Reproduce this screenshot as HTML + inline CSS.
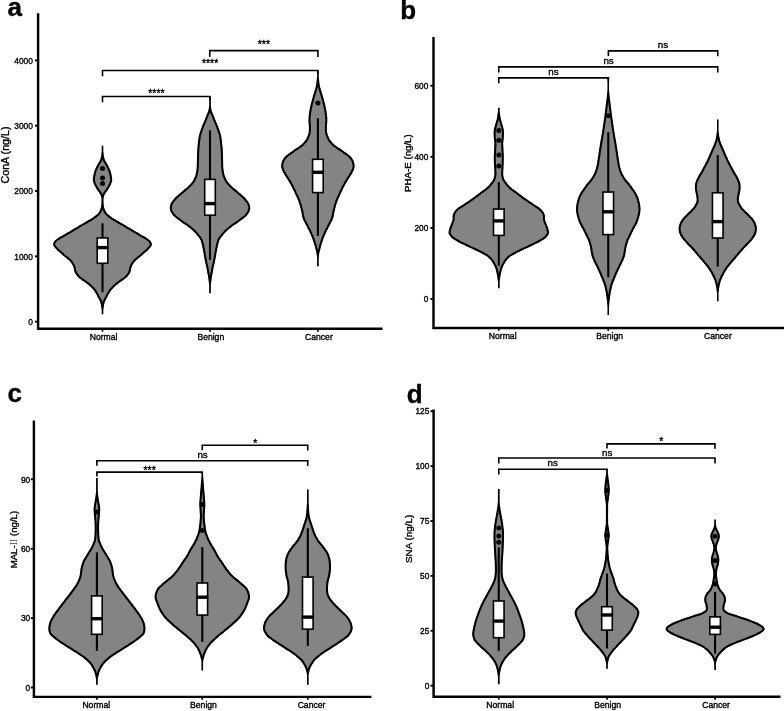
<!DOCTYPE html>
<html lang="en">
<head>
<meta charset="utf-8">
<title>Violin plots of lectin levels: ConA, PHA-E, MAL-II, SNA</title>
<style>
html,body{margin:0;padding:0;background:#fff;}
body{width:784px;height:711px;overflow:hidden;font-family:"Liberation Sans", sans-serif;}
svg{display:block;filter:blur(0.45px);}
</style>
</head>
<body>
<svg width="784" height="711" viewBox="0 0 784 711" font-family='"Liberation Sans", sans-serif' fill="#000">
<style>text{stroke:#000;stroke-width:0.35px;paint-order:stroke fill}</style>
<rect width="784" height="711" fill="#fff"/>
<g id="panel-a">
<text x="7.4" y="15.5" font-size="26" font-weight="bold">a</text>
<defs><path id="va0" d="M103.3,145.8 L103.3,146.6 L103.3,147.4 L103.3,148.2 L103.3,149.0 L103.3,149.8 L103.3,150.6 L103.3,151.4 L103.4,152.2 L103.5,153.0 L103.6,153.8 L103.7,154.6 L103.8,155.4 L103.9,156.2 L104.1,157.0 L104.3,157.8 L104.5,158.6 L104.7,159.4 L105.0,160.2 L105.5,161.0 L105.9,161.8 L106.4,162.6 L106.9,163.4 L107.4,164.2 L107.8,165.0 L108.2,165.8 L108.6,166.6 L109.0,167.4 L109.4,168.2 L109.7,169.0 L110.1,169.8 L110.4,170.5 L110.6,171.3 L110.9,172.1 L111.1,172.9 L111.3,173.7 L111.4,174.5 L111.6,175.3 L111.8,176.1 L111.9,176.9 L112.0,177.7 L112.1,178.5 L112.2,179.3 L112.2,180.1 L112.0,180.9 L111.9,181.7 L111.6,182.5 L111.3,183.3 L111.1,184.1 L110.7,184.9 L110.3,185.7 L109.9,186.5 L109.4,187.3 L109.0,188.1 L108.5,188.9 L108.0,189.7 L107.5,190.5 L106.9,191.3 L106.3,192.1 L105.7,192.9 L105.2,193.7 L104.7,194.5 L104.4,195.3 L104.1,196.1 L103.8,196.9 L103.6,197.7 L103.5,198.5 L103.5,199.3 L103.5,200.1 L103.5,200.9 L103.5,201.7 L103.5,202.5 L103.6,203.3 L103.6,204.1 L103.7,204.9 L103.7,205.7 L103.9,206.5 L104.1,207.3 L104.3,208.1 L104.6,208.9 L104.9,209.7 L105.2,210.5 L105.6,211.3 L106.1,212.1 L106.7,212.9 L107.4,213.7 L108.3,214.5 L109.2,215.3 L110.2,216.1 L111.3,216.9 L112.4,217.7 L113.6,218.4 L114.9,219.2 L116.2,220.0 L117.6,220.8 L119.0,221.6 L120.4,222.4 L121.7,223.2 L123.1,224.0 L124.5,224.8 L125.8,225.6 L127.1,226.4 L128.5,227.2 L129.8,228.0 L131.2,228.8 L132.5,229.6 L133.9,230.4 L135.2,231.2 L136.6,232.0 L138.0,232.8 L139.3,233.6 L140.7,234.4 L142.1,235.2 L143.5,236.0 L144.9,236.8 L146.2,237.6 L147.4,238.4 L148.5,239.2 L149.5,240.0 L150.3,240.8 L150.9,241.6 L151.3,242.4 L151.7,243.2 L151.9,244.0 L151.8,244.8 L151.6,245.6 L151.2,246.4 L150.6,247.2 L149.9,248.0 L149.2,248.8 L148.5,249.6 L147.7,250.4 L146.8,251.2 L145.9,252.0 L145.0,252.8 L144.1,253.6 L143.2,254.4 L142.3,255.2 L141.4,256.0 L140.4,256.8 L139.4,257.6 L138.4,258.4 L137.5,259.2 L136.5,260.0 L135.7,260.8 L134.9,261.6 L134.2,262.4 L133.6,263.2 L133.1,264.0 L132.6,264.8 L132.2,265.6 L131.9,266.3 L131.6,267.1 L131.3,267.9 L131.1,268.7 L131.0,269.5 L130.9,270.3 L130.7,271.1 L130.5,271.9 L130.1,272.7 L129.7,273.5 L129.2,274.3 L128.6,275.1 L128.0,275.9 L127.3,276.7 L126.6,277.5 L125.7,278.3 L124.7,279.1 L123.5,279.9 L122.3,280.7 L121.1,281.5 L120.0,282.3 L118.9,283.1 L117.9,283.9 L116.9,284.7 L116.0,285.5 L115.1,286.3 L114.2,287.1 L113.4,287.9 L112.6,288.7 L111.9,289.5 L111.2,290.3 L110.7,291.1 L110.1,291.9 L109.6,292.7 L109.2,293.5 L108.7,294.3 L108.3,295.1 L107.9,295.9 L107.5,296.7 L107.1,297.5 L106.6,298.3 L106.2,299.1 L105.8,299.9 L105.4,300.7 L105.0,301.5 L104.7,302.3 L104.5,303.1 L104.3,303.9 L104.1,304.7 L104.0,305.5 L103.9,306.3 L103.7,307.1 L103.6,307.9 L103.5,308.7 L103.4,309.5 L103.3,310.3 L103.3,311.1 L103.3,311.9 L103.3,312.7 L103.3,313.5 L103.3,314.2 L101.7,314.2 L101.7,313.5 L101.7,312.7 L101.7,311.9 L101.7,311.1 L101.7,310.3 L101.6,309.5 L101.5,308.7 L101.4,307.9 L101.3,307.1 L101.1,306.3 L101.0,305.5 L100.9,304.7 L100.7,303.9 L100.5,303.1 L100.3,302.3 L100.0,301.5 L99.6,300.7 L99.2,299.9 L98.8,299.1 L98.4,298.3 L97.9,297.5 L97.5,296.7 L97.1,295.9 L96.7,295.1 L96.3,294.3 L95.8,293.5 L95.4,292.7 L94.9,291.9 L94.3,291.1 L93.8,290.3 L93.1,289.5 L92.4,288.7 L91.6,287.9 L90.8,287.1 L89.9,286.3 L89.0,285.5 L88.1,284.7 L87.1,283.9 L86.1,283.1 L85.0,282.3 L83.9,281.5 L82.7,280.7 L81.5,279.9 L80.3,279.1 L79.3,278.3 L78.4,277.5 L77.7,276.7 L77.0,275.9 L76.4,275.1 L75.8,274.3 L75.3,273.5 L74.9,272.7 L74.5,271.9 L74.3,271.1 L74.1,270.3 L74.0,269.5 L73.9,268.7 L73.7,267.9 L73.4,267.1 L73.1,266.3 L72.8,265.6 L72.4,264.8 L71.9,264.0 L71.4,263.2 L70.8,262.4 L70.1,261.6 L69.3,260.8 L68.5,260.0 L67.5,259.2 L66.6,258.4 L65.6,257.6 L64.6,256.8 L63.6,256.0 L62.7,255.2 L61.8,254.4 L60.9,253.6 L60.0,252.8 L59.1,252.0 L58.2,251.2 L57.3,250.4 L56.5,249.6 L55.8,248.8 L55.1,248.0 L54.4,247.2 L53.8,246.4 L53.4,245.6 L53.2,244.8 L53.1,244.0 L53.3,243.2 L53.7,242.4 L54.1,241.6 L54.7,240.8 L55.5,240.0 L56.5,239.2 L57.6,238.4 L58.8,237.6 L60.1,236.8 L61.5,236.0 L62.9,235.2 L64.3,234.4 L65.7,233.6 L67.0,232.8 L68.4,232.0 L69.8,231.2 L71.1,230.4 L72.5,229.6 L73.8,228.8 L75.2,228.0 L76.5,227.2 L77.9,226.4 L79.2,225.6 L80.5,224.8 L81.9,224.0 L83.3,223.2 L84.6,222.4 L86.0,221.6 L87.4,220.8 L88.8,220.0 L90.1,219.2 L91.4,218.4 L92.6,217.7 L93.7,216.9 L94.8,216.1 L95.8,215.3 L96.7,214.5 L97.6,213.7 L98.3,212.9 L98.9,212.1 L99.4,211.3 L99.8,210.5 L100.1,209.7 L100.4,208.9 L100.7,208.1 L100.9,207.3 L101.1,206.5 L101.3,205.7 L101.3,204.9 L101.4,204.1 L101.4,203.3 L101.5,202.5 L101.5,201.7 L101.5,200.9 L101.5,200.1 L101.5,199.3 L101.5,198.5 L101.4,197.7 L101.2,196.9 L100.9,196.1 L100.6,195.3 L100.3,194.5 L99.8,193.7 L99.3,192.9 L98.7,192.1 L98.1,191.3 L97.5,190.5 L97.0,189.7 L96.5,188.9 L96.0,188.1 L95.6,187.3 L95.1,186.5 L94.7,185.7 L94.3,184.9 L93.9,184.1 L93.7,183.3 L93.4,182.5 L93.1,181.7 L93.0,180.9 L92.8,180.1 L92.8,179.3 L92.9,178.5 L93.0,177.7 L93.1,176.9 L93.2,176.1 L93.4,175.3 L93.6,174.5 L93.7,173.7 L93.9,172.9 L94.1,172.1 L94.4,171.3 L94.6,170.5 L94.9,169.8 L95.3,169.0 L95.6,168.2 L96.0,167.4 L96.4,166.6 L96.8,165.8 L97.2,165.0 L97.6,164.2 L98.1,163.4 L98.6,162.6 L99.1,161.8 L99.5,161.0 L100.0,160.2 L100.3,159.4 L100.5,158.6 L100.7,157.8 L100.9,157.0 L101.1,156.2 L101.2,155.4 L101.3,154.6 L101.4,153.8 L101.5,153.0 L101.6,152.2 L101.7,151.4 L101.7,150.6 L101.7,149.8 L101.7,149.0 L101.7,148.2 L101.7,147.4 L101.7,146.6 L101.7,145.8 Z"/><clipPath id="cva0"><use href="#va0"/></clipPath></defs>
<use href="#va0" fill="#848484" stroke="#000" stroke-width="4.1" stroke-linejoin="round" clip-path="url(#cva0)"/>
<defs><path id="va1" d="M210.8,96.5 L210.8,97.3 L210.8,98.1 L210.8,98.9 L210.8,99.7 L210.8,100.5 L210.8,101.3 L210.8,102.1 L210.8,102.9 L210.8,103.7 L210.8,104.5 L210.8,105.3 L210.8,106.1 L210.9,106.9 L211.1,107.7 L211.2,108.5 L211.4,109.3 L211.5,110.1 L211.7,110.9 L212.0,111.7 L212.3,112.5 L212.7,113.3 L213.0,114.1 L213.4,114.9 L213.7,115.7 L214.0,116.5 L214.3,117.3 L214.6,118.1 L214.9,118.9 L215.2,119.7 L215.6,120.5 L215.9,121.3 L216.2,122.1 L216.6,122.9 L216.9,123.7 L217.3,124.5 L217.6,125.3 L217.9,126.1 L218.2,126.9 L218.5,127.7 L218.8,128.5 L219.1,129.3 L219.4,130.1 L219.6,130.9 L219.9,131.7 L220.2,132.5 L220.4,133.3 L220.7,134.1 L220.9,134.9 L221.1,135.7 L221.2,136.5 L221.4,137.3 L221.5,138.1 L221.6,138.9 L221.7,139.7 L221.8,140.5 L221.9,141.3 L222.0,142.1 L222.1,142.9 L222.2,143.7 L222.3,144.5 L222.3,145.3 L222.4,146.1 L222.5,146.9 L222.6,147.7 L222.6,148.5 L222.7,149.3 L222.7,150.1 L222.8,150.9 L222.8,151.7 L222.9,152.5 L222.9,153.3 L222.9,154.1 L222.9,154.9 L223.0,155.7 L223.0,156.5 L223.0,157.3 L223.0,158.1 L223.1,158.9 L223.1,159.7 L223.1,160.5 L223.1,161.3 L223.1,162.1 L223.1,162.9 L223.2,163.7 L223.2,164.5 L223.2,165.3 L223.2,166.1 L223.2,166.9 L223.3,167.7 L223.4,168.5 L223.4,169.3 L223.6,170.1 L223.7,170.9 L223.8,171.7 L223.9,172.5 L224.1,173.3 L224.3,174.1 L224.5,174.9 L224.7,175.7 L225.0,176.5 L225.4,177.3 L225.7,178.1 L226.1,178.9 L226.4,179.7 L226.9,180.5 L227.4,181.3 L228.0,182.1 L228.7,182.9 L229.4,183.7 L230.1,184.5 L230.9,185.3 L231.7,186.1 L232.5,186.9 L233.4,187.7 L234.4,188.5 L235.3,189.3 L236.3,190.1 L237.3,190.9 L238.2,191.7 L239.1,192.5 L240.1,193.3 L241.0,194.1 L242.0,194.9 L242.9,195.7 L243.7,196.5 L244.6,197.3 L245.3,198.1 L246.0,198.9 L246.6,199.7 L247.3,200.5 L247.8,201.3 L248.4,202.1 L248.9,202.9 L249.3,203.7 L249.6,204.5 L249.8,205.3 L250.0,206.1 L250.2,206.9 L250.2,207.7 L250.2,208.5 L250.1,209.3 L249.9,210.1 L249.7,210.9 L249.3,211.7 L248.9,212.5 L248.4,213.3 L247.9,214.1 L247.3,214.9 L246.7,215.7 L245.9,216.5 L245.0,217.3 L244.0,218.1 L242.9,218.9 L241.9,219.7 L240.8,220.5 L239.8,221.3 L238.7,222.1 L237.6,222.9 L236.4,223.7 L235.2,224.5 L234.0,225.3 L232.8,226.1 L231.7,226.9 L230.7,227.7 L229.7,228.5 L228.8,229.3 L227.8,230.1 L227.0,230.9 L226.1,231.7 L225.3,232.5 L224.6,233.3 L223.9,234.1 L223.3,234.9 L222.6,235.7 L222.0,236.5 L221.3,237.3 L220.7,238.1 L220.2,238.9 L219.7,239.7 L219.3,240.5 L219.0,241.3 L218.8,242.1 L218.6,242.9 L218.4,243.7 L218.2,244.5 L218.0,245.3 L217.8,246.1 L217.7,246.9 L217.5,247.7 L217.3,248.5 L217.2,249.3 L217.0,250.1 L216.9,250.9 L216.7,251.7 L216.6,252.5 L216.4,253.3 L216.3,254.1 L216.2,254.9 L216.0,255.7 L215.9,256.5 L215.8,257.3 L215.6,258.1 L215.5,258.9 L215.3,259.7 L215.2,260.5 L215.0,261.3 L214.9,262.1 L214.7,262.9 L214.5,263.7 L214.3,264.5 L214.1,265.3 L213.9,266.1 L213.7,266.9 L213.6,267.7 L213.4,268.5 L213.3,269.3 L213.1,270.1 L213.0,270.9 L212.9,271.7 L212.7,272.5 L212.6,273.3 L212.4,274.1 L212.2,274.9 L212.1,275.7 L211.9,276.5 L211.8,277.3 L211.7,278.1 L211.6,278.9 L211.5,279.7 L211.4,280.5 L211.3,281.3 L211.2,282.1 L211.1,282.9 L211.0,283.7 L210.9,284.5 L210.9,285.3 L210.8,286.1 L210.8,286.9 L210.8,287.7 L210.8,288.5 L210.8,289.3 L210.8,290.1 L210.8,290.9 L210.8,291.7 L210.8,292.5 L210.8,293.2 L209.2,293.2 L209.2,292.5 L209.2,291.7 L209.2,290.9 L209.2,290.1 L209.2,289.3 L209.2,288.5 L209.2,287.7 L209.2,286.9 L209.2,286.1 L209.1,285.3 L209.1,284.5 L209.0,283.7 L208.9,282.9 L208.8,282.1 L208.7,281.3 L208.6,280.5 L208.5,279.7 L208.4,278.9 L208.3,278.1 L208.2,277.3 L208.1,276.5 L207.9,275.7 L207.8,274.9 L207.6,274.1 L207.4,273.3 L207.3,272.5 L207.1,271.7 L207.0,270.9 L206.9,270.1 L206.7,269.3 L206.6,268.5 L206.4,267.7 L206.3,266.9 L206.1,266.1 L205.9,265.3 L205.7,264.5 L205.5,263.7 L205.3,262.9 L205.1,262.1 L205.0,261.3 L204.8,260.5 L204.7,259.7 L204.5,258.9 L204.4,258.1 L204.2,257.3 L204.1,256.5 L204.0,255.7 L203.8,254.9 L203.7,254.1 L203.6,253.3 L203.4,252.5 L203.3,251.7 L203.1,250.9 L203.0,250.1 L202.8,249.3 L202.7,248.5 L202.5,247.7 L202.3,246.9 L202.2,246.1 L202.0,245.3 L201.8,244.5 L201.6,243.7 L201.4,242.9 L201.2,242.1 L201.0,241.3 L200.7,240.5 L200.3,239.7 L199.8,238.9 L199.3,238.1 L198.7,237.3 L198.0,236.5 L197.4,235.7 L196.7,234.9 L196.1,234.1 L195.4,233.3 L194.7,232.5 L193.9,231.7 L193.0,230.9 L192.2,230.1 L191.2,229.3 L190.3,228.5 L189.3,227.7 L188.3,226.9 L187.2,226.1 L186.0,225.3 L184.8,224.5 L183.6,223.7 L182.4,222.9 L181.3,222.1 L180.2,221.3 L179.2,220.5 L178.1,219.7 L177.1,218.9 L176.0,218.1 L175.0,217.3 L174.1,216.5 L173.3,215.7 L172.7,214.9 L172.1,214.1 L171.6,213.3 L171.1,212.5 L170.7,211.7 L170.3,210.9 L170.1,210.1 L169.9,209.3 L169.8,208.5 L169.8,207.7 L169.8,206.9 L170.0,206.1 L170.2,205.3 L170.4,204.5 L170.7,203.7 L171.1,202.9 L171.6,202.1 L172.2,201.3 L172.7,200.5 L173.4,199.7 L174.0,198.9 L174.7,198.1 L175.4,197.3 L176.3,196.5 L177.1,195.7 L178.0,194.9 L179.0,194.1 L179.9,193.3 L180.9,192.5 L181.8,191.7 L182.7,190.9 L183.7,190.1 L184.7,189.3 L185.6,188.5 L186.6,187.7 L187.5,186.9 L188.3,186.1 L189.1,185.3 L189.9,184.5 L190.6,183.7 L191.3,182.9 L192.0,182.1 L192.6,181.3 L193.1,180.5 L193.6,179.7 L193.9,178.9 L194.3,178.1 L194.6,177.3 L195.0,176.5 L195.3,175.7 L195.5,174.9 L195.7,174.1 L195.9,173.3 L196.1,172.5 L196.2,171.7 L196.3,170.9 L196.4,170.1 L196.6,169.3 L196.6,168.5 L196.7,167.7 L196.8,166.9 L196.8,166.1 L196.8,165.3 L196.8,164.5 L196.8,163.7 L196.9,162.9 L196.9,162.1 L196.9,161.3 L196.9,160.5 L196.9,159.7 L196.9,158.9 L197.0,158.1 L197.0,157.3 L197.0,156.5 L197.0,155.7 L197.1,154.9 L197.1,154.1 L197.1,153.3 L197.1,152.5 L197.2,151.7 L197.2,150.9 L197.3,150.1 L197.3,149.3 L197.4,148.5 L197.4,147.7 L197.5,146.9 L197.6,146.1 L197.7,145.3 L197.7,144.5 L197.8,143.7 L197.9,142.9 L198.0,142.1 L198.1,141.3 L198.2,140.5 L198.3,139.7 L198.4,138.9 L198.5,138.1 L198.6,137.3 L198.8,136.5 L198.9,135.7 L199.1,134.9 L199.3,134.1 L199.6,133.3 L199.8,132.5 L200.1,131.7 L200.4,130.9 L200.6,130.1 L200.9,129.3 L201.2,128.5 L201.5,127.7 L201.8,126.9 L202.1,126.1 L202.4,125.3 L202.7,124.5 L203.1,123.7 L203.4,122.9 L203.8,122.1 L204.1,121.3 L204.4,120.5 L204.8,119.7 L205.1,118.9 L205.4,118.1 L205.7,117.3 L206.0,116.5 L206.3,115.7 L206.6,114.9 L207.0,114.1 L207.3,113.3 L207.7,112.5 L208.0,111.7 L208.3,110.9 L208.5,110.1 L208.6,109.3 L208.8,108.5 L208.9,107.7 L209.1,106.9 L209.2,106.1 L209.2,105.3 L209.2,104.5 L209.2,103.7 L209.2,102.9 L209.2,102.1 L209.2,101.3 L209.2,100.5 L209.2,99.7 L209.2,98.9 L209.2,98.1 L209.2,97.3 L209.2,96.5 Z"/><clipPath id="cva1"><use href="#va1"/></clipPath></defs>
<use href="#va1" fill="#848484" stroke="#000" stroke-width="4.1" stroke-linejoin="round" clip-path="url(#cva1)"/>
<defs><path id="va2" d="M318.7,70.5 L318.7,71.3 L318.7,72.1 L318.7,72.9 L318.7,73.7 L318.7,74.5 L318.7,75.3 L318.7,76.1 L318.7,76.9 L318.8,77.7 L318.9,78.5 L319.0,79.3 L319.1,80.1 L319.2,80.9 L319.3,81.7 L319.3,82.5 L319.4,83.3 L319.5,84.1 L319.7,84.9 L319.8,85.7 L320.0,86.5 L320.2,87.3 L320.4,88.1 L320.7,88.9 L320.9,89.7 L321.1,90.5 L321.4,91.3 L321.6,92.1 L321.9,92.9 L322.1,93.7 L322.4,94.5 L322.6,95.3 L322.8,96.1 L323.1,96.9 L323.3,97.7 L323.5,98.5 L323.7,99.3 L323.9,100.1 L324.1,100.9 L324.4,101.7 L324.6,102.5 L324.8,103.3 L325.0,104.1 L325.2,104.9 L325.4,105.7 L325.5,106.5 L325.7,107.3 L325.9,108.1 L326.0,108.9 L326.2,109.7 L326.3,110.5 L326.5,111.3 L326.6,112.1 L326.7,112.9 L326.8,113.7 L326.9,114.5 L327.0,115.3 L327.1,116.1 L327.2,116.9 L327.2,117.7 L327.3,118.5 L327.3,119.3 L327.3,120.0 L327.3,120.8 L327.3,121.6 L327.2,122.4 L327.1,123.2 L327.1,124.0 L327.0,124.8 L327.0,125.6 L326.9,126.4 L326.9,127.2 L326.9,128.0 L326.9,128.8 L326.9,129.6 L327.0,130.4 L327.0,131.2 L327.0,132.0 L327.2,132.8 L327.4,133.6 L327.6,134.4 L327.9,135.2 L328.3,136.0 L328.6,136.8 L328.9,137.6 L329.3,138.4 L329.7,139.2 L330.2,140.0 L330.8,140.8 L331.5,141.6 L332.2,142.4 L332.9,143.2 L333.7,144.0 L334.6,144.8 L335.6,145.6 L336.7,146.4 L337.9,147.2 L339.1,148.0 L340.3,148.8 L341.5,149.6 L342.7,150.4 L343.7,151.2 L344.9,152.0 L346.0,152.8 L347.2,153.6 L348.2,154.4 L349.3,155.2 L350.2,156.0 L350.9,156.8 L351.6,157.6 L352.2,158.4 L352.7,159.2 L353.2,160.0 L353.6,160.8 L353.9,161.6 L354.1,162.4 L354.2,163.2 L354.4,164.0 L354.5,164.8 L354.6,165.6 L354.6,166.4 L354.5,167.2 L354.4,168.0 L354.1,168.8 L353.9,169.6 L353.5,170.4 L353.2,171.2 L352.8,172.0 L352.4,172.8 L352.0,173.6 L351.5,174.4 L351.0,175.2 L350.5,176.0 L350.0,176.8 L349.5,177.6 L348.9,178.4 L348.4,179.2 L347.9,180.0 L347.4,180.8 L347.0,181.6 L346.5,182.4 L346.0,183.2 L345.6,184.0 L345.1,184.8 L344.7,185.6 L344.3,186.4 L343.8,187.2 L343.4,188.0 L343.1,188.8 L342.7,189.6 L342.3,190.4 L341.9,191.2 L341.5,192.0 L341.2,192.8 L340.8,193.6 L340.4,194.4 L340.0,195.2 L339.7,196.0 L339.3,196.8 L338.9,197.6 L338.6,198.4 L338.3,199.2 L337.9,200.0 L337.6,200.8 L337.3,201.6 L337.0,202.4 L336.8,203.2 L336.5,204.0 L336.2,204.8 L336.0,205.6 L335.8,206.4 L335.6,207.2 L335.4,208.0 L335.2,208.8 L335.0,209.6 L334.8,210.4 L334.6,211.2 L334.4,212.0 L334.2,212.8 L334.1,213.6 L334.0,214.4 L333.9,215.2 L333.7,216.0 L333.6,216.8 L333.4,217.5 L333.1,218.3 L332.8,219.1 L332.5,219.9 L332.1,220.7 L331.7,221.5 L331.3,222.3 L330.9,223.1 L330.4,223.9 L330.0,224.7 L329.6,225.5 L329.2,226.3 L328.8,227.1 L328.4,227.9 L328.0,228.7 L327.6,229.5 L327.2,230.3 L326.7,231.1 L326.4,231.9 L326.0,232.7 L325.6,233.5 L325.3,234.3 L324.9,235.1 L324.6,235.9 L324.2,236.7 L323.9,237.5 L323.6,238.3 L323.3,239.1 L323.0,239.9 L322.8,240.7 L322.5,241.5 L322.2,242.3 L322.0,243.1 L321.7,243.9 L321.5,244.7 L321.2,245.5 L321.0,246.3 L320.8,247.1 L320.6,247.9 L320.4,248.7 L320.2,249.5 L320.0,250.3 L319.8,251.1 L319.6,251.9 L319.4,252.7 L319.3,253.5 L319.2,254.3 L319.0,255.1 L318.9,255.9 L318.8,256.7 L318.8,257.5 L318.7,258.3 L318.7,259.1 L318.7,259.9 L318.7,260.7 L318.7,261.5 L318.7,262.3 L318.7,263.1 L318.7,263.9 L318.7,264.7 L318.7,265.5 L318.7,266.3 L317.1,266.3 L317.1,265.5 L317.1,264.7 L317.1,263.9 L317.1,263.1 L317.1,262.3 L317.1,261.5 L317.1,260.7 L317.1,259.9 L317.1,259.1 L317.1,258.3 L317.0,257.5 L317.0,256.7 L316.9,255.9 L316.8,255.1 L316.6,254.3 L316.5,253.5 L316.4,252.7 L316.2,251.9 L316.0,251.1 L315.8,250.3 L315.6,249.5 L315.4,248.7 L315.2,247.9 L315.0,247.1 L314.8,246.3 L314.6,245.5 L314.3,244.7 L314.1,243.9 L313.8,243.1 L313.6,242.3 L313.3,241.5 L313.0,240.7 L312.8,239.9 L312.5,239.1 L312.2,238.3 L311.9,237.5 L311.6,236.7 L311.2,235.9 L310.9,235.1 L310.5,234.3 L310.2,233.5 L309.8,232.7 L309.4,231.9 L309.1,231.1 L308.6,230.3 L308.2,229.5 L307.8,228.7 L307.4,227.9 L307.0,227.1 L306.6,226.3 L306.2,225.5 L305.8,224.7 L305.4,223.9 L304.9,223.1 L304.5,222.3 L304.1,221.5 L303.7,220.7 L303.3,219.9 L303.0,219.1 L302.7,218.3 L302.4,217.5 L302.2,216.8 L302.1,216.0 L301.9,215.2 L301.8,214.4 L301.7,213.6 L301.6,212.8 L301.4,212.0 L301.2,211.2 L301.0,210.4 L300.8,209.6 L300.6,208.8 L300.4,208.0 L300.2,207.2 L300.0,206.4 L299.8,205.6 L299.6,204.8 L299.3,204.0 L299.0,203.2 L298.8,202.4 L298.5,201.6 L298.2,200.8 L297.9,200.0 L297.5,199.2 L297.2,198.4 L296.9,197.6 L296.5,196.8 L296.1,196.0 L295.8,195.2 L295.4,194.4 L295.0,193.6 L294.6,192.8 L294.3,192.0 L293.9,191.2 L293.5,190.4 L293.1,189.6 L292.7,188.8 L292.4,188.0 L292.0,187.2 L291.5,186.4 L291.1,185.6 L290.7,184.8 L290.2,184.0 L289.8,183.2 L289.3,182.4 L288.8,181.6 L288.4,180.8 L287.9,180.0 L287.4,179.2 L286.9,178.4 L286.3,177.6 L285.8,176.8 L285.3,176.0 L284.8,175.2 L284.3,174.4 L283.8,173.6 L283.4,172.8 L283.0,172.0 L282.6,171.2 L282.3,170.4 L281.9,169.6 L281.7,168.8 L281.4,168.0 L281.3,167.2 L281.2,166.4 L281.2,165.6 L281.3,164.8 L281.4,164.0 L281.6,163.2 L281.7,162.4 L281.9,161.6 L282.2,160.8 L282.6,160.0 L283.1,159.2 L283.6,158.4 L284.2,157.6 L284.9,156.8 L285.6,156.0 L286.5,155.2 L287.6,154.4 L288.6,153.6 L289.8,152.8 L290.9,152.0 L292.1,151.2 L293.1,150.4 L294.3,149.6 L295.5,148.8 L296.7,148.0 L297.9,147.2 L299.1,146.4 L300.2,145.6 L301.2,144.8 L302.1,144.0 L302.9,143.2 L303.6,142.4 L304.3,141.6 L305.0,140.8 L305.6,140.0 L306.1,139.2 L306.5,138.4 L306.9,137.6 L307.2,136.8 L307.5,136.0 L307.9,135.2 L308.2,134.4 L308.4,133.6 L308.6,132.8 L308.8,132.0 L308.8,131.2 L308.8,130.4 L308.9,129.6 L308.9,128.8 L308.9,128.0 L308.9,127.2 L308.9,126.4 L308.8,125.6 L308.8,124.8 L308.7,124.0 L308.7,123.2 L308.6,122.4 L308.5,121.6 L308.5,120.8 L308.5,120.0 L308.5,119.3 L308.5,118.5 L308.6,117.7 L308.6,116.9 L308.7,116.1 L308.8,115.3 L308.9,114.5 L309.0,113.7 L309.1,112.9 L309.2,112.1 L309.3,111.3 L309.5,110.5 L309.6,109.7 L309.8,108.9 L309.9,108.1 L310.1,107.3 L310.3,106.5 L310.4,105.7 L310.6,104.9 L310.8,104.1 L311.0,103.3 L311.2,102.5 L311.4,101.7 L311.7,100.9 L311.9,100.1 L312.1,99.3 L312.3,98.5 L312.5,97.7 L312.7,96.9 L313.0,96.1 L313.2,95.3 L313.4,94.5 L313.7,93.7 L313.9,92.9 L314.2,92.1 L314.4,91.3 L314.7,90.5 L314.9,89.7 L315.1,88.9 L315.4,88.1 L315.6,87.3 L315.8,86.5 L316.0,85.7 L316.1,84.9 L316.3,84.1 L316.4,83.3 L316.5,82.5 L316.5,81.7 L316.6,80.9 L316.7,80.1 L316.8,79.3 L316.9,78.5 L317.0,77.7 L317.1,76.9 L317.1,76.1 L317.1,75.3 L317.1,74.5 L317.1,73.7 L317.1,72.9 L317.1,72.1 L317.1,71.3 L317.1,70.5 Z"/><clipPath id="cva2"><use href="#va2"/></clipPath></defs>
<use href="#va2" fill="#848484" stroke="#000" stroke-width="4.1" stroke-linejoin="round" clip-path="url(#cva2)"/>
<circle cx="102.5" cy="168.5" r="2.5"/>
<circle cx="102.5" cy="178" r="2.5"/>
<circle cx="102.5" cy="183.5" r="2.5"/>
<line x1="102.5" y1="223.25" x2="102.5" y2="292.3" stroke="#000" stroke-width="2.1"/>
<rect x="97.2" y="237.9" width="10.6" height="25.4" fill="#fff" stroke="#000" stroke-width="1.6"/>
<line x1="96.4" y1="247.6" x2="108.6" y2="247.6" stroke="#000" stroke-width="3.4"/>
<line x1="210" y1="130.3" x2="210" y2="260" stroke="#000" stroke-width="2.1"/>
<rect x="204.7" y="179.4" width="10.6" height="35.8" fill="#fff" stroke="#000" stroke-width="1.6"/>
<line x1="203.9" y1="203.6" x2="216.1" y2="203.6" stroke="#000" stroke-width="3.4"/>
<circle cx="317.9" cy="103.1" r="2.5"/>
<line x1="317.9" y1="118" x2="317.9" y2="236" stroke="#000" stroke-width="2.1"/>
<rect x="312.6" y="159.3" width="10.6" height="33.3" fill="#fff" stroke="#000" stroke-width="1.6"/>
<line x1="311.8" y1="172.3" x2="324" y2="172.3" stroke="#000" stroke-width="3.4"/>
<path d="M38.1,13.3 V328.75 H382.5" fill="none" stroke="#000" stroke-width="2.45" stroke-linejoin="miter"/>
<line x1="35" y1="60.4" x2="38.1" y2="60.4" stroke="#000" stroke-width="1.9"/>
<text x="32.9" y="63.8" font-size="8.4" text-anchor="end">4000</text>
<line x1="35" y1="125.7" x2="38.1" y2="125.7" stroke="#000" stroke-width="1.9"/>
<text x="32.9" y="129.1" font-size="8.4" text-anchor="end">3000</text>
<line x1="35" y1="191" x2="38.1" y2="191" stroke="#000" stroke-width="1.9"/>
<text x="32.9" y="194.4" font-size="8.4" text-anchor="end">2000</text>
<line x1="35" y1="256.35" x2="38.1" y2="256.35" stroke="#000" stroke-width="1.9"/>
<text x="32.9" y="259.75" font-size="8.4" text-anchor="end">1000</text>
<line x1="35" y1="321.65" x2="38.1" y2="321.65" stroke="#000" stroke-width="1.9"/>
<text x="32.9" y="325.05" font-size="8.4" text-anchor="end">0</text>
<line x1="102.5" y1="328.75" x2="102.5" y2="331.65" stroke="#000" stroke-width="1.7"/>
<text x="103.6" y="339.9" font-size="8.6" text-anchor="middle">Normal</text>
<line x1="210" y1="328.75" x2="210" y2="331.65" stroke="#000" stroke-width="1.7"/>
<text x="210.8" y="339.9" font-size="8.6" text-anchor="middle">Benign</text>
<line x1="317.9" y1="328.75" x2="317.9" y2="331.65" stroke="#000" stroke-width="1.7"/>
<text x="318.9" y="339.9" font-size="8.6" text-anchor="middle">Cancer</text>
<text transform="translate(9,155) rotate(-90)" font-size="10.7" text-anchor="middle">ConA (ng/L)</text>
<path d="M102.5,102.2 V96.5 H210 V100" fill="none" stroke="#000" stroke-width="1.6"/>
<text x="156.4" y="96.8" font-size="10.5" text-anchor="middle">****</text>
<path d="M102.5,76.25 V70.5 H317.9 V74" fill="none" stroke="#000" stroke-width="1.6"/>
<text x="210.1" y="67.1" font-size="10.5" text-anchor="middle">****</text>
<path d="M209.75,56.9 V50.6 H317.9 V56.9" fill="none" stroke="#000" stroke-width="1.6"/>
<text x="263.9" y="47.8" font-size="10.5" text-anchor="middle">***</text>
</g>
<g id="panel-b">
<text x="400.2" y="18.6" font-size="26" font-weight="bold">b</text>
<defs><path id="vb0" d="M499.6,107.8 L499.6,108.5 L499.6,109.3 L499.6,110.1 L499.6,110.9 L499.7,111.7 L499.8,112.5 L499.9,113.3 L500.1,114.1 L500.2,114.9 L500.3,115.7 L500.4,116.5 L500.5,117.3 L500.7,118.1 L500.8,118.9 L501.0,119.7 L501.2,120.5 L501.5,121.3 L501.7,122.1 L502.0,122.9 L502.2,123.7 L502.4,124.5 L502.6,125.3 L502.8,126.1 L503.1,126.9 L503.3,127.7 L503.5,128.5 L503.6,129.3 L503.8,130.1 L503.9,130.9 L503.9,131.7 L503.9,132.5 L504.0,133.3 L504.0,134.1 L503.9,134.9 L503.9,135.7 L503.9,136.5 L503.8,137.3 L503.8,138.1 L503.7,138.9 L503.6,139.7 L503.5,140.5 L503.4,141.3 L503.3,142.1 L503.2,142.9 L503.2,143.7 L503.2,144.5 L503.2,145.3 L503.3,146.1 L503.3,146.9 L503.4,147.7 L503.4,148.5 L503.5,149.3 L503.5,150.1 L503.5,150.9 L503.6,151.7 L503.6,152.5 L503.7,153.3 L503.7,154.1 L503.8,154.9 L503.8,155.7 L503.8,156.5 L503.8,157.3 L503.8,158.1 L503.8,158.9 L503.8,159.7 L503.8,160.5 L503.7,161.3 L503.7,162.1 L503.7,162.9 L503.7,163.7 L503.6,164.5 L503.6,165.3 L503.5,166.1 L503.5,166.9 L503.5,167.7 L503.4,168.4 L503.4,169.2 L503.3,170.0 L503.3,170.8 L503.3,171.6 L503.2,172.4 L503.2,173.2 L503.2,174.0 L503.2,174.8 L503.3,175.6 L503.5,176.4 L503.7,177.2 L503.9,178.0 L504.1,178.8 L504.5,179.6 L505.0,180.4 L505.6,181.2 L506.1,182.0 L506.7,182.8 L507.3,183.6 L508.0,184.4 L508.7,185.2 L509.4,186.0 L510.2,186.8 L511.1,187.6 L512.0,188.4 L513.1,189.2 L514.2,190.0 L515.3,190.8 L516.4,191.6 L517.5,192.4 L518.5,193.2 L519.6,194.0 L520.6,194.8 L521.7,195.6 L522.8,196.4 L523.9,197.2 L525.0,198.0 L526.1,198.8 L527.3,199.6 L528.4,200.4 L529.6,201.2 L530.8,202.0 L532.0,202.8 L533.2,203.6 L534.4,204.4 L535.6,205.2 L536.9,206.0 L538.1,206.8 L539.3,207.6 L540.3,208.4 L541.2,209.2 L541.9,210.0 L542.6,210.8 L543.2,211.6 L543.7,212.4 L544.1,213.2 L544.5,214.0 L544.7,214.8 L544.9,215.6 L545.0,216.4 L545.0,217.2 L545.0,218.0 L545.0,218.8 L545.1,219.6 L545.2,220.4 L545.5,221.2 L545.8,222.0 L546.1,222.8 L546.4,223.6 L546.8,224.4 L547.1,225.2 L547.4,226.0 L547.7,226.8 L547.9,227.6 L548.2,228.3 L548.4,229.1 L548.6,229.9 L548.8,230.7 L549.0,231.5 L549.1,232.3 L549.1,233.1 L548.8,233.9 L548.4,234.7 L547.9,235.5 L547.3,236.3 L546.7,237.1 L545.9,237.9 L544.9,238.7 L543.8,239.5 L542.5,240.3 L541.1,241.1 L539.7,241.9 L538.3,242.7 L536.7,243.5 L535.1,244.3 L533.4,245.1 L531.7,245.9 L530.0,246.7 L528.3,247.5 L526.6,248.3 L524.9,249.1 L523.2,249.9 L521.4,250.7 L519.8,251.5 L518.2,252.3 L516.6,253.1 L515.1,253.9 L513.6,254.7 L512.2,255.5 L510.9,256.3 L509.8,257.1 L508.9,257.9 L508.1,258.7 L507.4,259.5 L506.7,260.3 L506.1,261.1 L505.6,261.9 L505.1,262.7 L504.6,263.5 L504.2,264.3 L503.7,265.1 L503.3,265.9 L502.9,266.7 L502.6,267.5 L502.3,268.3 L502.0,269.1 L501.8,269.9 L501.6,270.7 L501.4,271.5 L501.2,272.3 L501.0,273.1 L500.8,273.9 L500.7,274.7 L500.5,275.5 L500.4,276.3 L500.3,277.1 L500.2,277.9 L500.1,278.7 L499.9,279.5 L499.8,280.3 L499.7,281.1 L499.6,281.9 L499.6,282.7 L499.6,283.5 L499.6,284.3 L499.6,285.1 L499.6,285.9 L499.6,286.7 L499.6,287.5 L499.6,288.2 L498.0,288.2 L498.0,287.5 L498.0,286.7 L498.0,285.9 L498.0,285.1 L498.0,284.3 L498.0,283.5 L498.0,282.7 L498.0,281.9 L497.9,281.1 L497.8,280.3 L497.7,279.5 L497.5,278.7 L497.4,277.9 L497.3,277.1 L497.2,276.3 L497.1,275.5 L496.9,274.7 L496.8,273.9 L496.6,273.1 L496.4,272.3 L496.2,271.5 L496.0,270.7 L495.8,269.9 L495.6,269.1 L495.3,268.3 L495.0,267.5 L494.7,266.7 L494.3,265.9 L493.9,265.1 L493.4,264.3 L493.0,263.5 L492.5,262.7 L492.0,261.9 L491.5,261.1 L490.9,260.3 L490.2,259.5 L489.5,258.7 L488.7,257.9 L487.8,257.1 L486.7,256.3 L485.4,255.5 L484.0,254.7 L482.5,253.9 L481.0,253.1 L479.4,252.3 L477.8,251.5 L476.2,250.7 L474.4,249.9 L472.7,249.1 L471.0,248.3 L469.3,247.5 L467.6,246.7 L465.9,245.9 L464.2,245.1 L462.5,244.3 L460.9,243.5 L459.3,242.7 L457.9,241.9 L456.5,241.1 L455.1,240.3 L453.8,239.5 L452.7,238.7 L451.7,237.9 L450.9,237.1 L450.3,236.3 L449.7,235.5 L449.2,234.7 L448.8,233.9 L448.5,233.1 L448.5,232.3 L448.6,231.5 L448.8,230.7 L449.0,229.9 L449.2,229.1 L449.4,228.3 L449.7,227.6 L449.9,226.8 L450.2,226.0 L450.5,225.2 L450.8,224.4 L451.2,223.6 L451.5,222.8 L451.8,222.0 L452.1,221.2 L452.4,220.4 L452.5,219.6 L452.6,218.8 L452.6,218.0 L452.6,217.2 L452.6,216.4 L452.7,215.6 L452.9,214.8 L453.1,214.0 L453.5,213.2 L453.9,212.4 L454.4,211.6 L455.0,210.8 L455.7,210.0 L456.4,209.2 L457.3,208.4 L458.3,207.6 L459.5,206.8 L460.7,206.0 L462.0,205.2 L463.2,204.4 L464.4,203.6 L465.6,202.8 L466.8,202.0 L468.0,201.2 L469.2,200.4 L470.3,199.6 L471.5,198.8 L472.6,198.0 L473.7,197.2 L474.8,196.4 L475.9,195.6 L477.0,194.8 L478.0,194.0 L479.1,193.2 L480.1,192.4 L481.2,191.6 L482.3,190.8 L483.4,190.0 L484.5,189.2 L485.6,188.4 L486.5,187.6 L487.4,186.8 L488.2,186.0 L488.9,185.2 L489.6,184.4 L490.3,183.6 L490.9,182.8 L491.5,182.0 L492.0,181.2 L492.6,180.4 L493.1,179.6 L493.5,178.8 L493.7,178.0 L493.9,177.2 L494.1,176.4 L494.3,175.6 L494.4,174.8 L494.4,174.0 L494.4,173.2 L494.4,172.4 L494.3,171.6 L494.3,170.8 L494.3,170.0 L494.2,169.2 L494.2,168.4 L494.1,167.7 L494.1,166.9 L494.1,166.1 L494.0,165.3 L494.0,164.5 L493.9,163.7 L493.9,162.9 L493.9,162.1 L493.9,161.3 L493.8,160.5 L493.8,159.7 L493.8,158.9 L493.8,158.1 L493.8,157.3 L493.8,156.5 L493.8,155.7 L493.8,154.9 L493.9,154.1 L493.9,153.3 L494.0,152.5 L494.0,151.7 L494.1,150.9 L494.1,150.1 L494.1,149.3 L494.2,148.5 L494.2,147.7 L494.3,146.9 L494.3,146.1 L494.4,145.3 L494.4,144.5 L494.4,143.7 L494.4,142.9 L494.3,142.1 L494.2,141.3 L494.1,140.5 L494.0,139.7 L493.9,138.9 L493.8,138.1 L493.8,137.3 L493.7,136.5 L493.7,135.7 L493.7,134.9 L493.6,134.1 L493.6,133.3 L493.7,132.5 L493.7,131.7 L493.7,130.9 L493.8,130.1 L494.0,129.3 L494.1,128.5 L494.3,127.7 L494.5,126.9 L494.8,126.1 L495.0,125.3 L495.2,124.5 L495.4,123.7 L495.6,122.9 L495.9,122.1 L496.1,121.3 L496.4,120.5 L496.6,119.7 L496.8,118.9 L496.9,118.1 L497.1,117.3 L497.2,116.5 L497.3,115.7 L497.4,114.9 L497.5,114.1 L497.7,113.3 L497.8,112.5 L497.9,111.7 L498.0,110.9 L498.0,110.1 L498.0,109.3 L498.0,108.5 L498.0,107.8 Z"/><clipPath id="cvb0"><use href="#vb0"/></clipPath></defs>
<use href="#vb0" fill="#848484" stroke="#000" stroke-width="4.1" stroke-linejoin="round" clip-path="url(#cvb0)"/>
<defs><path id="vb1" d="M609.0,77.9 L609.0,78.7 L609.0,79.5 L609.0,80.3 L609.0,81.1 L609.0,81.9 L609.0,82.7 L609.0,83.5 L609.0,84.3 L609.0,85.1 L609.0,85.9 L609.0,86.7 L609.0,87.5 L609.0,88.3 L609.0,89.1 L609.0,89.9 L609.1,90.7 L609.1,91.5 L609.2,92.3 L609.3,93.1 L609.4,93.9 L609.5,94.7 L609.5,95.5 L609.6,96.3 L609.7,97.1 L609.8,97.9 L609.9,98.7 L610.0,99.5 L610.1,100.3 L610.2,101.1 L610.3,101.8 L610.4,102.6 L610.5,103.4 L610.6,104.2 L610.7,105.0 L610.8,105.8 L610.9,106.6 L611.0,107.4 L611.1,108.2 L611.2,109.0 L611.3,109.8 L611.4,110.6 L611.5,111.4 L611.6,112.2 L611.7,113.0 L611.8,113.8 L611.9,114.6 L612.0,115.4 L612.1,116.2 L612.2,117.0 L612.3,117.8 L612.5,118.6 L612.6,119.4 L612.7,120.2 L612.8,121.0 L612.9,121.8 L613.0,122.6 L613.1,123.4 L613.2,124.2 L613.4,125.0 L613.5,125.8 L613.6,126.6 L613.7,127.4 L613.8,128.2 L614.0,129.0 L614.1,129.8 L614.2,130.6 L614.3,131.4 L614.5,132.2 L614.6,133.0 L614.7,133.8 L614.8,134.6 L615.0,135.4 L615.1,136.2 L615.3,137.0 L615.4,137.8 L615.5,138.6 L615.7,139.4 L615.8,140.2 L616.0,141.0 L616.1,141.8 L616.2,142.6 L616.4,143.4 L616.5,144.2 L616.6,145.0 L616.8,145.8 L616.9,146.6 L617.0,147.4 L617.1,148.2 L617.3,149.0 L617.4,149.7 L617.5,150.5 L617.6,151.3 L617.7,152.1 L617.9,152.9 L618.0,153.7 L618.1,154.5 L618.2,155.3 L618.3,156.1 L618.5,156.9 L618.6,157.7 L618.7,158.5 L618.8,159.3 L619.0,160.1 L619.1,160.9 L619.2,161.7 L619.3,162.5 L619.5,163.3 L619.6,164.1 L619.7,164.9 L619.9,165.7 L620.1,166.5 L620.3,167.3 L620.5,168.1 L620.7,168.9 L621.0,169.7 L621.2,170.5 L621.5,171.3 L621.8,172.1 L622.2,172.9 L622.5,173.7 L623.0,174.5 L623.4,175.3 L623.8,176.1 L624.3,176.9 L624.8,177.7 L625.3,178.5 L625.9,179.3 L626.6,180.1 L627.2,180.9 L627.9,181.7 L628.6,182.5 L629.3,183.3 L630.0,184.1 L630.6,184.9 L631.1,185.7 L631.7,186.5 L632.3,187.3 L632.8,188.1 L633.4,188.9 L634.0,189.7 L634.5,190.5 L635.0,191.3 L635.6,192.1 L636.1,192.9 L636.5,193.7 L636.9,194.5 L637.3,195.3 L637.7,196.1 L638.0,196.8 L638.3,197.6 L638.5,198.4 L638.8,199.2 L639.0,200.0 L639.2,200.8 L639.5,201.6 L639.6,202.4 L639.8,203.2 L640.0,204.0 L640.1,204.8 L640.2,205.6 L640.3,206.4 L640.4,207.2 L640.5,208.0 L640.5,208.8 L640.5,209.6 L640.4,210.4 L640.4,211.2 L640.3,212.0 L640.2,212.8 L640.0,213.6 L639.9,214.4 L639.7,215.2 L639.5,216.0 L639.3,216.8 L639.1,217.6 L638.8,218.4 L638.6,219.2 L638.3,220.0 L638.1,220.8 L637.8,221.6 L637.5,222.4 L637.2,223.2 L636.8,224.0 L636.4,224.8 L635.9,225.6 L635.4,226.4 L635.0,227.2 L634.6,228.0 L634.2,228.8 L633.7,229.6 L633.3,230.4 L632.9,231.2 L632.5,232.0 L632.1,232.8 L631.7,233.6 L631.4,234.4 L631.0,235.2 L630.6,236.0 L630.2,236.8 L629.8,237.6 L629.4,238.4 L629.0,239.2 L628.6,240.0 L628.3,240.8 L628.1,241.6 L627.8,242.4 L627.6,243.2 L627.3,243.9 L627.1,244.7 L626.9,245.5 L626.7,246.3 L626.5,247.1 L626.4,247.9 L626.2,248.7 L626.1,249.5 L626.0,250.3 L625.9,251.1 L625.7,251.9 L625.6,252.7 L625.4,253.5 L625.3,254.3 L625.1,255.1 L624.9,255.9 L624.7,256.7 L624.4,257.5 L624.1,258.3 L623.8,259.1 L623.5,259.9 L623.1,260.7 L622.8,261.5 L622.4,262.3 L622.0,263.1 L621.6,263.9 L621.2,264.7 L620.8,265.5 L620.4,266.3 L620.0,267.1 L619.6,267.9 L619.2,268.7 L618.8,269.5 L618.5,270.3 L618.1,271.1 L617.7,271.9 L617.4,272.7 L617.0,273.5 L616.7,274.3 L616.4,275.1 L616.0,275.9 L615.7,276.7 L615.4,277.5 L615.0,278.3 L614.7,279.1 L614.4,279.9 L614.1,280.7 L613.7,281.5 L613.4,282.3 L613.1,283.1 L612.8,283.9 L612.6,284.7 L612.3,285.5 L612.1,286.3 L611.9,287.1 L611.7,287.9 L611.5,288.7 L611.4,289.5 L611.2,290.3 L611.0,291.1 L610.9,291.8 L610.7,292.6 L610.6,293.4 L610.5,294.2 L610.3,295.0 L610.2,295.8 L610.1,296.6 L610.0,297.4 L609.9,298.2 L609.8,299.0 L609.7,299.8 L609.6,300.6 L609.5,301.4 L609.4,302.2 L609.3,303.0 L609.3,303.8 L609.2,304.6 L609.1,305.4 L609.0,306.2 L609.0,307.0 L609.0,307.8 L609.0,308.6 L609.0,309.4 L609.0,310.2 L609.0,311.0 L609.0,311.8 L609.0,312.6 L609.0,313.4 L609.0,314.2 L609.0,315.0 L607.5,315.0 L607.5,314.2 L607.5,313.4 L607.5,312.6 L607.5,311.8 L607.5,311.0 L607.5,310.2 L607.5,309.4 L607.5,308.6 L607.5,307.8 L607.5,307.0 L607.5,306.2 L607.4,305.4 L607.3,304.6 L607.2,303.8 L607.2,303.0 L607.1,302.2 L607.0,301.4 L606.9,300.6 L606.8,299.8 L606.7,299.0 L606.6,298.2 L606.5,297.4 L606.4,296.6 L606.3,295.8 L606.2,295.0 L606.0,294.2 L605.9,293.4 L605.8,292.6 L605.6,291.8 L605.5,291.1 L605.3,290.3 L605.1,289.5 L605.0,288.7 L604.8,287.9 L604.6,287.1 L604.4,286.3 L604.2,285.5 L603.9,284.7 L603.7,283.9 L603.4,283.1 L603.1,282.3 L602.8,281.5 L602.4,280.7 L602.1,279.9 L601.8,279.1 L601.5,278.3 L601.1,277.5 L600.8,276.7 L600.5,275.9 L600.1,275.1 L599.8,274.3 L599.5,273.5 L599.1,272.7 L598.8,271.9 L598.4,271.1 L598.0,270.3 L597.7,269.5 L597.3,268.7 L596.9,267.9 L596.5,267.1 L596.1,266.3 L595.7,265.5 L595.3,264.7 L594.9,263.9 L594.5,263.1 L594.1,262.3 L593.7,261.5 L593.4,260.7 L593.0,259.9 L592.7,259.1 L592.4,258.3 L592.1,257.5 L591.8,256.7 L591.6,255.9 L591.4,255.1 L591.2,254.3 L591.1,253.5 L590.9,252.7 L590.8,251.9 L590.6,251.1 L590.5,250.3 L590.4,249.5 L590.3,248.7 L590.1,247.9 L590.0,247.1 L589.8,246.3 L589.6,245.5 L589.4,244.7 L589.2,243.9 L588.9,243.2 L588.7,242.4 L588.4,241.6 L588.2,240.8 L587.9,240.0 L587.5,239.2 L587.1,238.4 L586.7,237.6 L586.3,236.8 L585.9,236.0 L585.5,235.2 L585.1,234.4 L584.8,233.6 L584.4,232.8 L584.0,232.0 L583.6,231.2 L583.2,230.4 L582.8,229.6 L582.3,228.8 L581.9,228.0 L581.5,227.2 L581.1,226.4 L580.6,225.6 L580.1,224.8 L579.7,224.0 L579.3,223.2 L579.0,222.4 L578.7,221.6 L578.4,220.8 L578.2,220.0 L577.9,219.2 L577.7,218.4 L577.4,217.6 L577.2,216.8 L577.0,216.0 L576.8,215.2 L576.6,214.4 L576.5,213.6 L576.3,212.8 L576.2,212.0 L576.1,211.2 L576.1,210.4 L576.0,209.6 L576.0,208.8 L576.0,208.0 L576.1,207.2 L576.2,206.4 L576.3,205.6 L576.4,204.8 L576.5,204.0 L576.7,203.2 L576.9,202.4 L577.0,201.6 L577.3,200.8 L577.5,200.0 L577.7,199.2 L578.0,198.4 L578.2,197.6 L578.5,196.8 L578.8,196.1 L579.2,195.3 L579.6,194.5 L580.0,193.7 L580.4,192.9 L580.9,192.1 L581.5,191.3 L582.0,190.5 L582.5,189.7 L583.1,188.9 L583.7,188.1 L584.2,187.3 L584.8,186.5 L585.4,185.7 L585.9,184.9 L586.5,184.1 L587.2,183.3 L587.9,182.5 L588.6,181.7 L589.3,180.9 L589.9,180.1 L590.6,179.3 L591.2,178.5 L591.7,177.7 L592.2,176.9 L592.7,176.1 L593.1,175.3 L593.5,174.5 L594.0,173.7 L594.3,172.9 L594.7,172.1 L595.0,171.3 L595.3,170.5 L595.5,169.7 L595.8,168.9 L596.0,168.1 L596.2,167.3 L596.4,166.5 L596.6,165.7 L596.8,164.9 L596.9,164.1 L597.0,163.3 L597.2,162.5 L597.3,161.7 L597.4,160.9 L597.5,160.1 L597.7,159.3 L597.8,158.5 L597.9,157.7 L598.0,156.9 L598.2,156.1 L598.3,155.3 L598.4,154.5 L598.5,153.7 L598.6,152.9 L598.8,152.1 L598.9,151.3 L599.0,150.5 L599.1,149.7 L599.2,149.0 L599.4,148.2 L599.5,147.4 L599.6,146.6 L599.7,145.8 L599.9,145.0 L600.0,144.2 L600.1,143.4 L600.3,142.6 L600.4,141.8 L600.5,141.0 L600.7,140.2 L600.8,139.4 L601.0,138.6 L601.1,137.8 L601.2,137.0 L601.4,136.2 L601.5,135.4 L601.7,134.6 L601.8,133.8 L601.9,133.0 L602.0,132.2 L602.2,131.4 L602.3,130.6 L602.4,129.8 L602.5,129.0 L602.7,128.2 L602.8,127.4 L602.9,126.6 L603.0,125.8 L603.1,125.0 L603.3,124.2 L603.4,123.4 L603.5,122.6 L603.6,121.8 L603.7,121.0 L603.8,120.2 L603.9,119.4 L604.0,118.6 L604.2,117.8 L604.3,117.0 L604.4,116.2 L604.5,115.4 L604.6,114.6 L604.7,113.8 L604.8,113.0 L604.9,112.2 L605.0,111.4 L605.1,110.6 L605.2,109.8 L605.3,109.0 L605.4,108.2 L605.5,107.4 L605.6,106.6 L605.7,105.8 L605.8,105.0 L605.9,104.2 L606.0,103.4 L606.1,102.6 L606.2,101.8 L606.3,101.1 L606.4,100.3 L606.5,99.5 L606.6,98.7 L606.7,97.9 L606.8,97.1 L606.9,96.3 L607.0,95.5 L607.0,94.7 L607.1,93.9 L607.2,93.1 L607.3,92.3 L607.4,91.5 L607.4,90.7 L607.5,89.9 L607.5,89.1 L607.5,88.3 L607.5,87.5 L607.5,86.7 L607.5,85.9 L607.5,85.1 L607.5,84.3 L607.5,83.5 L607.5,82.7 L607.5,81.9 L607.5,81.1 L607.5,80.3 L607.5,79.5 L607.5,78.7 L607.5,77.9 Z"/><clipPath id="cvb1"><use href="#vb1"/></clipPath></defs>
<use href="#vb1" fill="#848484" stroke="#000" stroke-width="4.1" stroke-linejoin="round" clip-path="url(#cvb1)"/>
<defs><path id="vb2" d="M718.5,119.5 L718.5,120.3 L718.5,121.1 L718.5,121.9 L718.5,122.7 L718.5,123.5 L718.5,124.3 L718.5,125.1 L718.5,125.9 L718.5,126.7 L718.5,127.5 L718.5,128.3 L718.5,129.1 L718.5,129.9 L718.6,130.7 L718.6,131.5 L718.7,132.3 L718.8,133.1 L718.9,133.8 L719.0,134.6 L719.1,135.4 L719.3,136.2 L719.4,137.0 L719.6,137.8 L719.7,138.6 L719.9,139.4 L720.1,140.2 L720.3,141.0 L720.6,141.8 L720.9,142.6 L721.2,143.4 L721.5,144.2 L721.8,145.0 L722.2,145.8 L722.5,146.6 L722.9,147.4 L723.3,148.2 L723.6,149.0 L724.0,149.8 L724.3,150.6 L724.6,151.4 L725.0,152.2 L725.3,153.0 L725.7,153.8 L726.0,154.6 L726.3,155.4 L726.7,156.2 L727.1,157.0 L727.4,157.8 L727.8,158.6 L728.1,159.4 L728.5,160.2 L728.9,161.0 L729.3,161.7 L729.7,162.5 L730.1,163.3 L730.5,164.1 L730.9,164.9 L731.3,165.7 L731.8,166.5 L732.2,167.3 L732.6,168.1 L733.1,168.9 L733.5,169.7 L733.9,170.5 L734.4,171.3 L734.9,172.1 L735.3,172.9 L735.8,173.7 L736.3,174.5 L736.7,175.3 L737.2,176.1 L737.6,176.9 L738.1,177.7 L738.5,178.5 L738.8,179.3 L739.2,180.1 L739.5,180.9 L739.8,181.7 L740.0,182.5 L740.3,183.3 L740.4,184.1 L740.5,184.9 L740.5,185.7 L740.6,186.5 L740.6,187.3 L740.6,188.1 L740.5,188.9 L740.5,189.6 L740.4,190.4 L740.2,191.2 L740.0,192.0 L739.9,192.8 L739.7,193.6 L739.5,194.4 L739.4,195.2 L739.2,196.0 L739.1,196.8 L739.0,197.6 L738.9,198.4 L738.9,199.2 L738.8,200.0 L738.9,200.8 L739.1,201.6 L739.3,202.4 L739.7,203.2 L740.1,204.0 L740.6,204.8 L741.0,205.6 L741.5,206.4 L742.1,207.2 L742.7,208.0 L743.4,208.8 L744.2,209.6 L744.9,210.4 L745.7,211.2 L746.6,212.0 L747.4,212.8 L748.2,213.6 L749.0,214.4 L749.8,215.2 L750.6,216.0 L751.3,216.8 L752.0,217.5 L752.7,218.3 L753.3,219.1 L753.9,219.9 L754.4,220.7 L754.9,221.5 L755.3,222.3 L755.7,223.1 L755.9,223.9 L756.2,224.7 L756.5,225.5 L756.7,226.3 L756.8,227.1 L756.9,227.9 L756.9,228.7 L756.9,229.5 L756.8,230.3 L756.7,231.1 L756.5,231.9 L756.3,232.7 L756.1,233.5 L755.8,234.3 L755.4,235.1 L755.0,235.9 L754.5,236.7 L754.0,237.5 L753.5,238.3 L752.9,239.1 L752.2,239.9 L751.6,240.7 L750.8,241.5 L750.1,242.3 L749.4,243.1 L748.6,243.9 L747.9,244.7 L747.1,245.4 L746.4,246.2 L745.6,247.0 L744.8,247.8 L744.1,248.6 L743.4,249.4 L742.7,250.2 L742.0,251.0 L741.3,251.8 L740.6,252.6 L739.9,253.4 L739.2,254.2 L738.6,255.0 L737.9,255.8 L737.2,256.6 L736.5,257.4 L735.9,258.2 L735.2,259.0 L734.5,259.8 L733.8,260.6 L733.1,261.4 L732.4,262.2 L731.8,263.0 L731.1,263.8 L730.4,264.6 L729.7,265.4 L729.1,266.2 L728.5,267.0 L727.9,267.8 L727.3,268.6 L726.8,269.4 L726.2,270.2 L725.8,271.0 L725.3,271.8 L724.8,272.6 L724.4,273.3 L724.0,274.1 L723.6,274.9 L723.2,275.7 L722.8,276.5 L722.4,277.3 L722.0,278.1 L721.7,278.9 L721.3,279.7 L721.0,280.5 L720.7,281.3 L720.5,282.1 L720.2,282.9 L720.1,283.7 L719.9,284.5 L719.7,285.3 L719.5,286.1 L719.4,286.9 L719.2,287.7 L719.1,288.5 L719.0,289.3 L718.9,290.1 L718.8,290.9 L718.7,291.7 L718.6,292.5 L718.5,293.3 L718.5,294.1 L718.5,294.9 L718.5,295.7 L718.5,296.5 L718.5,297.3 L718.5,298.1 L718.5,298.9 L718.5,299.7 L718.5,300.5 L718.5,301.2 L717.0,301.2 L717.0,300.5 L717.0,299.7 L717.0,298.9 L717.0,298.1 L717.0,297.3 L717.0,296.5 L717.0,295.7 L717.0,294.9 L717.0,294.1 L717.0,293.3 L716.9,292.5 L716.8,291.7 L716.7,290.9 L716.6,290.1 L716.5,289.3 L716.4,288.5 L716.3,287.7 L716.1,286.9 L716.0,286.1 L715.8,285.3 L715.6,284.5 L715.4,283.7 L715.3,282.9 L715.0,282.1 L714.8,281.3 L714.5,280.5 L714.2,279.7 L713.8,278.9 L713.5,278.1 L713.1,277.3 L712.7,276.5 L712.3,275.7 L711.9,274.9 L711.5,274.1 L711.1,273.3 L710.7,272.6 L710.2,271.8 L709.7,271.0 L709.3,270.2 L708.7,269.4 L708.2,268.6 L707.6,267.8 L707.0,267.0 L706.4,266.2 L705.8,265.4 L705.1,264.6 L704.4,263.8 L703.7,263.0 L703.1,262.2 L702.4,261.4 L701.7,260.6 L701.0,259.8 L700.3,259.0 L699.6,258.2 L699.0,257.4 L698.3,256.6 L697.6,255.8 L696.9,255.0 L696.3,254.2 L695.6,253.4 L694.9,252.6 L694.2,251.8 L693.5,251.0 L692.8,250.2 L692.1,249.4 L691.4,248.6 L690.7,247.8 L689.9,247.0 L689.1,246.2 L688.4,245.4 L687.6,244.7 L686.9,243.9 L686.1,243.1 L685.4,242.3 L684.7,241.5 L683.9,240.7 L683.3,239.9 L682.6,239.1 L682.0,238.3 L681.5,237.5 L681.0,236.7 L680.5,235.9 L680.1,235.1 L679.7,234.3 L679.4,233.5 L679.2,232.7 L679.0,231.9 L678.8,231.1 L678.7,230.3 L678.6,229.5 L678.6,228.7 L678.6,227.9 L678.7,227.1 L678.8,226.3 L679.0,225.5 L679.3,224.7 L679.6,223.9 L679.8,223.1 L680.2,222.3 L680.6,221.5 L681.1,220.7 L681.6,219.9 L682.2,219.1 L682.8,218.3 L683.5,217.5 L684.2,216.8 L684.9,216.0 L685.7,215.2 L686.5,214.4 L687.3,213.6 L688.1,212.8 L688.9,212.0 L689.8,211.2 L690.6,210.4 L691.3,209.6 L692.1,208.8 L692.8,208.0 L693.4,207.2 L694.0,206.4 L694.5,205.6 L694.9,204.8 L695.4,204.0 L695.8,203.2 L696.2,202.4 L696.4,201.6 L696.6,200.8 L696.7,200.0 L696.6,199.2 L696.6,198.4 L696.5,197.6 L696.4,196.8 L696.3,196.0 L696.1,195.2 L696.0,194.4 L695.8,193.6 L695.6,192.8 L695.5,192.0 L695.3,191.2 L695.1,190.4 L695.0,189.6 L695.0,188.9 L694.9,188.1 L694.9,187.3 L694.9,186.5 L695.0,185.7 L695.0,184.9 L695.1,184.1 L695.2,183.3 L695.5,182.5 L695.7,181.7 L696.0,180.9 L696.3,180.1 L696.7,179.3 L697.0,178.5 L697.4,177.7 L697.9,176.9 L698.3,176.1 L698.8,175.3 L699.2,174.5 L699.7,173.7 L700.2,172.9 L700.6,172.1 L701.1,171.3 L701.6,170.5 L702.0,169.7 L702.4,168.9 L702.9,168.1 L703.3,167.3 L703.7,166.5 L704.2,165.7 L704.6,164.9 L705.0,164.1 L705.4,163.3 L705.8,162.5 L706.2,161.7 L706.6,161.0 L707.0,160.2 L707.4,159.4 L707.7,158.6 L708.1,157.8 L708.4,157.0 L708.8,156.2 L709.2,155.4 L709.5,154.6 L709.8,153.8 L710.2,153.0 L710.5,152.2 L710.9,151.4 L711.2,150.6 L711.5,149.8 L711.9,149.0 L712.2,148.2 L712.6,147.4 L713.0,146.6 L713.3,145.8 L713.7,145.0 L714.0,144.2 L714.3,143.4 L714.6,142.6 L714.9,141.8 L715.2,141.0 L715.4,140.2 L715.6,139.4 L715.8,138.6 L715.9,137.8 L716.1,137.0 L716.2,136.2 L716.4,135.4 L716.5,134.6 L716.6,133.8 L716.7,133.1 L716.8,132.3 L716.9,131.5 L716.9,130.7 L717.0,129.9 L717.0,129.1 L717.0,128.3 L717.0,127.5 L717.0,126.7 L717.0,125.9 L717.0,125.1 L717.0,124.3 L717.0,123.5 L717.0,122.7 L717.0,121.9 L717.0,121.1 L717.0,120.3 L717.0,119.5 Z"/><clipPath id="cvb2"><use href="#vb2"/></clipPath></defs>
<use href="#vb2" fill="#848484" stroke="#000" stroke-width="4.1" stroke-linejoin="round" clip-path="url(#cvb2)"/>
<circle cx="498.8" cy="130.6" r="2.5"/>
<circle cx="498.8" cy="140.3" r="2.5"/>
<circle cx="498.8" cy="155" r="2.5"/>
<circle cx="498.8" cy="166" r="2.5"/>
<line x1="498.8" y1="182" x2="498.8" y2="265.6" stroke="#000" stroke-width="2.1"/>
<rect x="493.5" y="209.05" width="10.6" height="26.35" fill="#fff" stroke="#000" stroke-width="1.6"/>
<line x1="492.7" y1="220.9" x2="504.9" y2="220.9" stroke="#000" stroke-width="3.4"/>
<circle cx="608.25" cy="115.75" r="2.5"/>
<line x1="608.25" y1="132" x2="608.25" y2="277.3" stroke="#000" stroke-width="2.1"/>
<rect x="602.95" y="192.05" width="10.6" height="42.55" fill="#fff" stroke="#000" stroke-width="1.6"/>
<line x1="602.15" y1="211.8" x2="614.35" y2="211.8" stroke="#000" stroke-width="3.4"/>
<line x1="717.75" y1="155" x2="717.75" y2="266.6" stroke="#000" stroke-width="2.1"/>
<rect x="712.45" y="192.8" width="10.6" height="45.2" fill="#fff" stroke="#000" stroke-width="1.6"/>
<line x1="711.65" y1="221.6" x2="723.85" y2="221.6" stroke="#000" stroke-width="3.4"/>
<path d="M433.5,37 V327.9 H784.5" fill="none" stroke="#000" stroke-width="2.45" stroke-linejoin="miter"/>
<line x1="430.4" y1="85.75" x2="433.5" y2="85.75" stroke="#000" stroke-width="1.9"/>
<text x="428.3" y="89.05" font-size="8.3" text-anchor="end">600</text>
<line x1="430.4" y1="156.8" x2="433.5" y2="156.8" stroke="#000" stroke-width="1.9"/>
<text x="428.3" y="160.1" font-size="8.3" text-anchor="end">400</text>
<line x1="430.4" y1="227.9" x2="433.5" y2="227.9" stroke="#000" stroke-width="1.9"/>
<text x="428.3" y="231.2" font-size="8.3" text-anchor="end">200</text>
<line x1="430.4" y1="298.95" x2="433.5" y2="298.95" stroke="#000" stroke-width="1.9"/>
<text x="428.3" y="302.25" font-size="8.3" text-anchor="end">0</text>
<line x1="498.8" y1="327.9" x2="498.8" y2="330.8" stroke="#000" stroke-width="1.7"/>
<text x="502.7" y="339" font-size="8.6" text-anchor="middle">Normal</text>
<line x1="608.25" y1="327.9" x2="608.25" y2="330.8" stroke="#000" stroke-width="1.7"/>
<text x="609.6" y="339" font-size="8.6" text-anchor="middle">Benign</text>
<line x1="717.75" y1="327.9" x2="717.75" y2="330.8" stroke="#000" stroke-width="1.7"/>
<text x="717.9" y="339" font-size="8.6" text-anchor="middle">Cancer</text>
<text transform="translate(411.1,163.1) rotate(-90)" font-size="9.7" text-anchor="middle">PHA-E (ng/L)</text>
<path d="M608.4,56 V50.85 H717.75 V56.25" fill="none" stroke="#000" stroke-width="1.6"/>
<text x="663" y="47.7" font-size="9.8" text-anchor="middle">ns</text>
<path d="M498.75,72.5 V66.9 H717.75 V72.5" fill="none" stroke="#000" stroke-width="1.6"/>
<text x="608.6" y="64" font-size="9.8" text-anchor="middle">ns</text>
<path d="M498.75,83.25 V77.85 H608.4 V81" fill="none" stroke="#000" stroke-width="1.6"/>
<text x="553.5" y="75" font-size="9.8" text-anchor="middle">ns</text>
</g>
<g id="panel-c">
<text x="7.6" y="402.4" font-size="26" font-weight="bold">c</text>
<defs><path id="vc0" d="M97.7,477.9 L97.7,478.7 L97.7,479.5 L97.7,480.3 L97.7,481.1 L97.7,481.9 L97.7,482.7 L97.7,483.5 L97.7,484.3 L97.7,485.1 L97.7,485.9 L97.7,486.7 L97.7,487.5 L97.7,488.3 L97.7,489.1 L97.7,489.9 L97.7,490.7 L97.8,491.5 L97.8,492.3 L97.9,493.1 L98.0,493.9 L98.1,494.7 L98.2,495.5 L98.3,496.3 L98.4,497.1 L98.6,497.9 L98.7,498.7 L98.8,499.5 L98.9,500.3 L99.1,501.1 L99.2,501.9 L99.4,502.7 L99.5,503.5 L99.7,504.3 L99.8,505.1 L99.9,505.9 L100.0,506.7 L100.1,507.4 L100.2,508.2 L100.2,509.0 L100.2,509.8 L100.2,510.6 L100.1,511.4 L100.1,512.2 L100.0,513.0 L99.9,513.8 L99.9,514.6 L99.8,515.4 L99.7,516.2 L99.7,517.0 L99.6,517.8 L99.5,518.6 L99.5,519.4 L99.4,520.2 L99.3,521.0 L99.3,521.8 L99.2,522.6 L99.2,523.4 L99.2,524.2 L99.1,525.0 L99.1,525.8 L99.1,526.6 L99.1,527.4 L99.1,528.2 L99.1,529.0 L99.1,529.8 L99.1,530.6 L99.2,531.4 L99.2,532.2 L99.2,533.0 L99.2,533.8 L99.3,534.6 L99.3,535.4 L99.4,536.2 L99.4,537.0 L99.5,537.8 L99.6,538.6 L99.7,539.4 L99.8,540.2 L100.1,541.0 L100.4,541.8 L100.7,542.6 L101.1,543.4 L101.4,544.2 L101.7,545.0 L102.1,545.8 L102.5,546.6 L102.9,547.4 L103.3,548.2 L103.8,549.0 L104.3,549.8 L104.8,550.6 L105.3,551.4 L105.8,552.2 L106.3,553.0 L106.8,553.8 L107.2,554.6 L107.7,555.4 L108.2,556.2 L108.7,557.0 L109.2,557.8 L109.7,558.6 L110.2,559.4 L110.6,560.2 L110.9,561.0 L111.3,561.8 L111.6,562.6 L111.8,563.4 L112.1,564.2 L112.3,565.0 L112.6,565.8 L112.8,566.5 L112.9,567.3 L113.1,568.1 L113.3,568.9 L113.4,569.7 L113.5,570.5 L113.6,571.3 L113.6,572.1 L113.7,572.9 L113.8,573.7 L114.0,574.5 L114.1,575.3 L114.3,576.1 L114.5,576.9 L114.8,577.7 L115.1,578.5 L115.4,579.3 L115.7,580.1 L116.0,580.9 L116.4,581.7 L116.8,582.5 L117.2,583.3 L117.6,584.1 L118.2,584.9 L118.7,585.7 L119.3,586.5 L119.8,587.3 L120.4,588.1 L121.0,588.9 L121.6,589.7 L122.2,590.5 L122.7,591.3 L123.4,592.1 L124.0,592.9 L124.6,593.7 L125.2,594.5 L125.8,595.3 L126.4,596.1 L127.1,596.9 L127.7,597.7 L128.3,598.5 L128.9,599.3 L129.5,600.1 L130.1,600.9 L130.8,601.7 L131.4,602.5 L132.0,603.3 L132.6,604.1 L133.2,604.9 L133.8,605.7 L134.4,606.5 L135.1,607.3 L135.7,608.1 L136.3,608.9 L136.8,609.7 L137.4,610.5 L138.0,611.3 L138.6,612.1 L139.2,612.9 L139.7,613.7 L140.3,614.5 L140.8,615.3 L141.3,616.1 L141.8,616.9 L142.2,617.7 L142.7,618.5 L143.1,619.3 L143.5,620.1 L143.8,620.9 L144.2,621.7 L144.5,622.5 L144.7,623.3 L144.9,624.1 L145.1,624.9 L145.2,625.6 L145.3,626.4 L145.4,627.2 L145.4,628.0 L145.4,628.8 L145.4,629.6 L145.4,630.4 L145.2,631.2 L145.0,632.0 L144.8,632.8 L144.5,633.6 L144.1,634.4 L143.4,635.2 L142.5,636.0 L141.6,636.8 L140.7,637.6 L139.7,638.4 L138.7,639.2 L137.7,640.0 L136.6,640.8 L135.5,641.6 L134.3,642.4 L133.2,643.2 L132.0,644.0 L130.8,644.8 L129.5,645.6 L128.3,646.4 L127.0,647.2 L125.7,648.0 L124.5,648.8 L123.2,649.6 L121.9,650.4 L120.7,651.2 L119.4,652.0 L118.1,652.8 L116.8,653.6 L115.6,654.4 L114.3,655.2 L113.1,656.0 L112.0,656.8 L110.9,657.6 L109.9,658.4 L109.0,659.2 L108.0,660.0 L107.1,660.8 L106.3,661.6 L105.4,662.4 L104.7,663.2 L104.0,664.0 L103.4,664.8 L102.8,665.6 L102.4,666.4 L101.9,667.2 L101.4,668.0 L101.0,668.8 L100.6,669.6 L100.2,670.4 L99.8,671.2 L99.5,672.0 L99.3,672.8 L99.0,673.6 L98.8,674.4 L98.6,675.2 L98.4,676.0 L98.2,676.8 L98.1,677.6 L97.9,678.4 L97.8,679.2 L97.7,680.0 L97.7,680.8 L97.7,681.6 L97.7,682.4 L97.7,683.2 L97.7,684.0 L97.7,684.8 L96.1,684.8 L96.1,684.0 L96.1,683.2 L96.1,682.4 L96.1,681.6 L96.1,680.8 L96.1,680.0 L96.0,679.2 L95.9,678.4 L95.7,677.6 L95.6,676.8 L95.4,676.0 L95.2,675.2 L95.0,674.4 L94.8,673.6 L94.5,672.8 L94.3,672.0 L94.0,671.2 L93.6,670.4 L93.2,669.6 L92.8,668.8 L92.4,668.0 L91.9,667.2 L91.4,666.4 L91.0,665.6 L90.4,664.8 L89.8,664.0 L89.1,663.2 L88.4,662.4 L87.5,661.6 L86.7,660.8 L85.8,660.0 L84.8,659.2 L83.9,658.4 L82.9,657.6 L81.8,656.8 L80.7,656.0 L79.5,655.2 L78.2,654.4 L77.0,653.6 L75.7,652.8 L74.4,652.0 L73.1,651.2 L71.9,650.4 L70.6,649.6 L69.3,648.8 L68.1,648.0 L66.8,647.2 L65.5,646.4 L64.3,645.6 L63.0,644.8 L61.8,644.0 L60.6,643.2 L59.5,642.4 L58.3,641.6 L57.2,640.8 L56.1,640.0 L55.1,639.2 L54.1,638.4 L53.1,637.6 L52.2,636.8 L51.3,636.0 L50.4,635.2 L49.7,634.4 L49.3,633.6 L49.0,632.8 L48.8,632.0 L48.6,631.2 L48.4,630.4 L48.4,629.6 L48.4,628.8 L48.4,628.0 L48.4,627.2 L48.5,626.4 L48.6,625.6 L48.7,624.9 L48.9,624.1 L49.1,623.3 L49.3,622.5 L49.6,621.7 L50.0,620.9 L50.3,620.1 L50.7,619.3 L51.1,618.5 L51.6,617.7 L52.0,616.9 L52.5,616.1 L53.0,615.3 L53.5,614.5 L54.1,613.7 L54.6,612.9 L55.2,612.1 L55.8,611.3 L56.4,610.5 L57.0,609.7 L57.5,608.9 L58.1,608.1 L58.7,607.3 L59.4,606.5 L60.0,605.7 L60.6,604.9 L61.2,604.1 L61.8,603.3 L62.4,602.5 L63.0,601.7 L63.7,600.9 L64.3,600.1 L64.9,599.3 L65.5,598.5 L66.1,597.7 L66.7,596.9 L67.4,596.1 L68.0,595.3 L68.6,594.5 L69.2,593.7 L69.8,592.9 L70.4,592.1 L71.1,591.3 L71.6,590.5 L72.2,589.7 L72.8,588.9 L73.4,588.1 L74.0,587.3 L74.5,586.5 L75.1,585.7 L75.6,584.9 L76.2,584.1 L76.6,583.3 L77.0,582.5 L77.4,581.7 L77.8,580.9 L78.1,580.1 L78.4,579.3 L78.7,578.5 L79.0,577.7 L79.3,576.9 L79.5,576.1 L79.7,575.3 L79.8,574.5 L80.0,573.7 L80.1,572.9 L80.2,572.1 L80.2,571.3 L80.3,570.5 L80.4,569.7 L80.5,568.9 L80.7,568.1 L80.9,567.3 L81.0,566.5 L81.2,565.8 L81.5,565.0 L81.7,564.2 L82.0,563.4 L82.2,562.6 L82.5,561.8 L82.9,561.0 L83.2,560.2 L83.6,559.4 L84.1,558.6 L84.6,557.8 L85.1,557.0 L85.6,556.2 L86.1,555.4 L86.6,554.6 L87.0,553.8 L87.5,553.0 L88.0,552.2 L88.5,551.4 L89.0,550.6 L89.5,549.8 L90.0,549.0 L90.5,548.2 L90.9,547.4 L91.3,546.6 L91.7,545.8 L92.1,545.0 L92.4,544.2 L92.7,543.4 L93.1,542.6 L93.4,541.8 L93.7,541.0 L94.0,540.2 L94.1,539.4 L94.2,538.6 L94.3,537.8 L94.4,537.0 L94.4,536.2 L94.5,535.4 L94.5,534.6 L94.6,533.8 L94.6,533.0 L94.6,532.2 L94.6,531.4 L94.7,530.6 L94.7,529.8 L94.7,529.0 L94.7,528.2 L94.7,527.4 L94.7,526.6 L94.7,525.8 L94.7,525.0 L94.6,524.2 L94.6,523.4 L94.6,522.6 L94.5,521.8 L94.5,521.0 L94.4,520.2 L94.3,519.4 L94.3,518.6 L94.2,517.8 L94.1,517.0 L94.1,516.2 L94.0,515.4 L93.9,514.6 L93.9,513.8 L93.8,513.0 L93.7,512.2 L93.7,511.4 L93.6,510.6 L93.6,509.8 L93.6,509.0 L93.6,508.2 L93.7,507.4 L93.8,506.7 L93.9,505.9 L94.0,505.1 L94.1,504.3 L94.3,503.5 L94.4,502.7 L94.6,501.9 L94.7,501.1 L94.9,500.3 L95.0,499.5 L95.1,498.7 L95.2,497.9 L95.4,497.1 L95.5,496.3 L95.6,495.5 L95.7,494.7 L95.8,493.9 L95.9,493.1 L96.0,492.3 L96.0,491.5 L96.1,490.7 L96.1,489.9 L96.1,489.1 L96.1,488.3 L96.1,487.5 L96.1,486.7 L96.1,485.9 L96.1,485.1 L96.1,484.3 L96.1,483.5 L96.1,482.7 L96.1,481.9 L96.1,481.1 L96.1,480.3 L96.1,479.5 L96.1,478.7 L96.1,477.9 Z"/><clipPath id="cvc0"><use href="#vc0"/></clipPath></defs>
<use href="#vc0" fill="#848484" stroke="#000" stroke-width="4.1" stroke-linejoin="round" clip-path="url(#cvc0)"/>
<defs><path id="vc1" d="M203.1,472.1 L203.1,472.9 L203.1,473.7 L203.1,474.5 L203.1,475.3 L203.1,476.1 L203.2,476.9 L203.3,477.7 L203.3,478.5 L203.4,479.3 L203.5,480.1 L203.5,480.9 L203.6,481.7 L203.7,482.5 L203.7,483.3 L203.8,484.1 L203.8,484.9 L203.9,485.7 L204.0,486.5 L204.0,487.3 L204.1,488.1 L204.2,488.9 L204.2,489.7 L204.3,490.5 L204.4,491.3 L204.4,492.1 L204.5,492.9 L204.6,493.7 L204.6,494.5 L204.7,495.3 L204.8,496.1 L204.8,496.9 L204.9,497.7 L205.0,498.5 L205.0,499.3 L205.1,500.1 L205.2,500.9 L205.2,501.7 L205.3,502.5 L205.3,503.3 L205.3,504.1 L205.3,504.9 L205.3,505.7 L205.2,506.5 L205.2,507.3 L205.1,508.1 L205.1,508.9 L205.0,509.7 L205.0,510.5 L204.9,511.3 L204.9,512.1 L204.8,512.9 L204.8,513.7 L204.7,514.5 L204.7,515.3 L204.7,516.1 L204.7,516.9 L204.7,517.7 L204.8,518.5 L204.9,519.3 L204.9,520.1 L205.0,520.9 L205.0,521.7 L205.1,522.5 L205.2,523.3 L205.3,524.1 L205.4,524.9 L205.5,525.7 L205.6,526.5 L205.7,527.3 L205.8,528.1 L205.9,528.9 L206.1,529.7 L206.2,530.5 L206.4,531.3 L206.6,532.1 L206.8,532.9 L207.1,533.7 L207.4,534.5 L207.6,535.3 L208.0,536.1 L208.3,536.9 L208.6,537.7 L208.9,538.5 L209.3,539.3 L209.7,540.1 L210.1,540.9 L210.5,541.7 L210.9,542.5 L211.4,543.3 L211.8,544.1 L212.3,544.9 L212.8,545.7 L213.3,546.5 L213.8,547.3 L214.3,548.1 L214.8,548.9 L215.3,549.7 L215.7,550.5 L216.1,551.3 L216.5,552.1 L216.9,552.9 L217.3,553.7 L217.7,554.5 L218.2,555.3 L218.7,556.1 L219.2,556.9 L219.7,557.7 L220.3,558.5 L220.9,559.3 L221.4,560.1 L222.0,560.9 L222.5,561.7 L223.0,562.5 L223.6,563.3 L224.1,564.1 L224.6,564.9 L225.1,565.7 L225.7,566.5 L226.2,567.3 L226.8,568.1 L227.4,568.9 L228.0,569.7 L228.6,570.5 L229.2,571.3 L229.8,572.1 L230.5,572.9 L231.2,573.7 L231.9,574.5 L232.7,575.3 L233.5,576.1 L234.5,576.9 L235.4,577.7 L236.4,578.5 L237.5,579.3 L238.5,580.1 L239.5,580.9 L240.4,581.7 L241.3,582.5 L242.2,583.3 L243.2,584.1 L244.1,584.9 L245.0,585.7 L245.8,586.5 L246.6,587.3 L247.2,588.1 L247.7,588.9 L248.1,589.7 L248.5,590.5 L248.8,591.3 L249.1,592.1 L249.4,592.9 L249.6,593.7 L249.7,594.5 L249.9,595.3 L250.0,596.1 L250.0,596.9 L250.0,597.7 L249.9,598.5 L249.7,599.3 L249.4,600.1 L249.1,600.9 L248.8,601.7 L248.5,602.5 L248.2,603.3 L247.9,604.1 L247.6,604.9 L247.3,605.7 L247.0,606.5 L246.7,607.3 L246.3,608.1 L246.0,608.9 L245.6,609.7 L245.2,610.5 L244.8,611.3 L244.3,612.1 L243.8,612.9 L243.3,613.7 L242.8,614.5 L242.2,615.3 L241.6,616.1 L241.0,616.9 L240.4,617.7 L239.7,618.5 L238.9,619.3 L238.2,620.1 L237.4,620.9 L236.5,621.7 L235.7,622.5 L234.8,623.3 L233.9,624.1 L233.0,624.9 L232.1,625.7 L231.2,626.5 L230.2,627.3 L229.2,628.1 L228.3,628.9 L227.3,629.7 L226.3,630.5 L225.3,631.3 L224.4,632.1 L223.4,632.9 L222.4,633.7 L221.4,634.5 L220.4,635.3 L219.5,636.1 L218.5,636.9 L217.6,637.7 L216.7,638.5 L215.8,639.3 L215.0,640.1 L214.1,640.9 L213.3,641.7 L212.5,642.5 L211.7,643.3 L211.0,644.1 L210.4,644.9 L209.8,645.7 L209.2,646.5 L208.6,647.3 L208.0,648.1 L207.5,648.9 L207.1,649.7 L206.7,650.5 L206.3,651.3 L206.0,652.1 L205.6,652.9 L205.3,653.7 L205.0,654.5 L204.7,655.3 L204.4,656.1 L204.2,656.9 L204.0,657.7 L203.8,658.5 L203.6,659.3 L203.4,660.1 L203.3,660.9 L203.1,661.7 L203.1,662.5 L203.1,663.3 L203.1,664.1 L203.1,664.9 L203.1,665.7 L203.1,666.5 L203.1,667.3 L203.1,668.1 L203.1,668.9 L203.1,669.7 L203.1,670.5 L201.5,670.5 L201.5,669.7 L201.5,668.9 L201.5,668.1 L201.5,667.3 L201.5,666.5 L201.5,665.7 L201.5,664.9 L201.5,664.1 L201.5,663.3 L201.5,662.5 L201.5,661.7 L201.3,660.9 L201.2,660.1 L201.0,659.3 L200.8,658.5 L200.6,657.7 L200.4,656.9 L200.2,656.1 L199.9,655.3 L199.6,654.5 L199.3,653.7 L199.0,652.9 L198.6,652.1 L198.3,651.3 L197.9,650.5 L197.5,649.7 L197.1,648.9 L196.6,648.1 L196.0,647.3 L195.4,646.5 L194.8,645.7 L194.2,644.9 L193.6,644.1 L192.9,643.3 L192.1,642.5 L191.3,641.7 L190.5,640.9 L189.6,640.1 L188.8,639.3 L187.9,638.5 L187.0,637.7 L186.1,636.9 L185.1,636.1 L184.2,635.3 L183.2,634.5 L182.2,633.7 L181.2,632.9 L180.2,632.1 L179.3,631.3 L178.3,630.5 L177.3,629.7 L176.3,628.9 L175.4,628.1 L174.4,627.3 L173.4,626.5 L172.5,625.7 L171.6,624.9 L170.7,624.1 L169.8,623.3 L168.9,622.5 L168.1,621.7 L167.2,620.9 L166.4,620.1 L165.7,619.3 L164.9,618.5 L164.2,617.7 L163.6,616.9 L163.0,616.1 L162.4,615.3 L161.8,614.5 L161.3,613.7 L160.8,612.9 L160.3,612.1 L159.8,611.3 L159.4,610.5 L159.0,609.7 L158.6,608.9 L158.3,608.1 L157.9,607.3 L157.6,606.5 L157.3,605.7 L157.0,604.9 L156.7,604.1 L156.4,603.3 L156.1,602.5 L155.8,601.7 L155.5,600.9 L155.2,600.1 L154.9,599.3 L154.7,598.5 L154.6,597.7 L154.6,596.9 L154.6,596.1 L154.7,595.3 L154.9,594.5 L155.0,593.7 L155.2,592.9 L155.5,592.1 L155.8,591.3 L156.1,590.5 L156.5,589.7 L156.9,588.9 L157.4,588.1 L158.0,587.3 L158.8,586.5 L159.6,585.7 L160.5,584.9 L161.4,584.1 L162.4,583.3 L163.3,582.5 L164.2,581.7 L165.1,580.9 L166.1,580.1 L167.1,579.3 L168.2,578.5 L169.2,577.7 L170.1,576.9 L171.1,576.1 L171.9,575.3 L172.7,574.5 L173.4,573.7 L174.1,572.9 L174.8,572.1 L175.4,571.3 L176.0,570.5 L176.6,569.7 L177.2,568.9 L177.8,568.1 L178.4,567.3 L178.9,566.5 L179.5,565.7 L180.0,564.9 L180.5,564.1 L181.0,563.3 L181.6,562.5 L182.1,561.7 L182.6,560.9 L183.2,560.1 L183.7,559.3 L184.3,558.5 L184.9,557.7 L185.4,556.9 L185.9,556.1 L186.4,555.3 L186.9,554.5 L187.3,553.7 L187.7,552.9 L188.1,552.1 L188.5,551.3 L188.9,550.5 L189.3,549.7 L189.8,548.9 L190.3,548.1 L190.8,547.3 L191.3,546.5 L191.8,545.7 L192.3,544.9 L192.8,544.1 L193.2,543.3 L193.7,542.5 L194.1,541.7 L194.5,540.9 L194.9,540.1 L195.3,539.3 L195.7,538.5 L196.0,537.7 L196.3,536.9 L196.6,536.1 L197.0,535.3 L197.2,534.5 L197.5,533.7 L197.8,532.9 L198.0,532.1 L198.2,531.3 L198.4,530.5 L198.5,529.7 L198.7,528.9 L198.8,528.1 L198.9,527.3 L199.0,526.5 L199.1,525.7 L199.2,524.9 L199.3,524.1 L199.4,523.3 L199.5,522.5 L199.6,521.7 L199.6,520.9 L199.7,520.1 L199.7,519.3 L199.8,518.5 L199.9,517.7 L199.9,516.9 L199.9,516.1 L199.9,515.3 L199.9,514.5 L199.8,513.7 L199.8,512.9 L199.7,512.1 L199.7,511.3 L199.6,510.5 L199.6,509.7 L199.5,508.9 L199.5,508.1 L199.4,507.3 L199.4,506.5 L199.3,505.7 L199.3,504.9 L199.3,504.1 L199.3,503.3 L199.3,502.5 L199.4,501.7 L199.4,500.9 L199.5,500.1 L199.6,499.3 L199.6,498.5 L199.7,497.7 L199.8,496.9 L199.8,496.1 L199.9,495.3 L200.0,494.5 L200.0,493.7 L200.1,492.9 L200.2,492.1 L200.2,491.3 L200.3,490.5 L200.4,489.7 L200.4,488.9 L200.5,488.1 L200.6,487.3 L200.6,486.5 L200.7,485.7 L200.8,484.9 L200.8,484.1 L200.9,483.3 L200.9,482.5 L201.0,481.7 L201.1,480.9 L201.1,480.1 L201.2,479.3 L201.3,478.5 L201.3,477.7 L201.4,476.9 L201.5,476.1 L201.5,475.3 L201.5,474.5 L201.5,473.7 L201.5,472.9 L201.5,472.1 Z"/><clipPath id="cvc1"><use href="#vc1"/></clipPath></defs>
<use href="#vc1" fill="#848484" stroke="#000" stroke-width="4.1" stroke-linejoin="round" clip-path="url(#cvc1)"/>
<defs><path id="vc2" d="M308.6,489.5 L308.6,490.3 L308.6,491.1 L308.6,491.9 L308.6,492.7 L308.6,493.5 L308.6,494.3 L308.6,495.1 L308.6,495.9 L308.6,496.7 L308.6,497.5 L308.6,498.3 L308.6,499.1 L308.6,499.9 L308.6,500.7 L308.6,501.5 L308.6,502.3 L308.6,503.0 L308.7,503.8 L308.8,504.6 L308.8,505.4 L308.9,506.2 L308.9,507.0 L309.0,507.8 L309.0,508.6 L309.1,509.4 L309.1,510.2 L309.2,511.0 L309.3,511.8 L309.3,512.6 L309.4,513.4 L309.5,514.2 L309.6,515.0 L309.7,515.8 L309.8,516.6 L310.0,517.4 L310.2,518.2 L310.4,519.0 L310.7,519.8 L310.9,520.6 L311.2,521.4 L311.5,522.2 L311.7,523.0 L312.0,523.8 L312.3,524.6 L312.5,525.4 L312.8,526.2 L313.0,527.0 L313.3,527.8 L313.5,528.5 L313.8,529.3 L314.1,530.1 L314.3,530.9 L314.6,531.7 L314.9,532.5 L315.2,533.3 L315.6,534.1 L315.9,534.9 L316.3,535.7 L316.7,536.5 L317.2,537.3 L317.6,538.1 L318.1,538.9 L318.6,539.7 L319.1,540.5 L319.7,541.3 L320.4,542.1 L321.0,542.9 L321.7,543.7 L322.4,544.5 L323.1,545.3 L323.7,546.1 L324.3,546.9 L324.9,547.7 L325.4,548.5 L326.0,549.3 L326.6,550.1 L327.1,550.9 L327.6,551.7 L328.0,552.5 L328.4,553.3 L328.8,554.1 L329.1,554.8 L329.4,555.6 L329.6,556.4 L329.9,557.2 L330.1,558.0 L330.3,558.8 L330.5,559.6 L330.6,560.4 L330.7,561.2 L330.8,562.0 L330.8,562.8 L330.9,563.6 L331.0,564.4 L331.0,565.2 L331.0,566.0 L331.0,566.8 L331.0,567.6 L331.0,568.4 L330.9,569.2 L330.9,570.0 L330.8,570.8 L330.7,571.6 L330.6,572.4 L330.5,573.2 L330.4,574.0 L330.3,574.8 L330.1,575.6 L330.0,576.4 L329.8,577.2 L329.5,578.0 L329.3,578.8 L329.1,579.6 L328.9,580.4 L328.7,581.1 L328.5,581.9 L328.4,582.7 L328.3,583.5 L328.3,584.3 L328.2,585.1 L328.1,585.9 L328.1,586.7 L328.0,587.5 L328.0,588.3 L328.0,589.1 L328.0,589.9 L328.1,590.7 L328.1,591.5 L328.2,592.3 L328.3,593.1 L328.5,593.9 L328.8,594.7 L329.1,595.5 L329.5,596.3 L329.9,597.1 L330.4,597.9 L330.9,598.7 L331.5,599.5 L332.1,600.3 L332.8,601.1 L333.5,601.9 L334.2,602.7 L334.8,603.5 L335.6,604.3 L336.3,605.1 L337.1,605.9 L337.9,606.6 L338.8,607.4 L339.6,608.2 L340.4,609.0 L341.2,609.8 L342.0,610.6 L342.9,611.4 L343.7,612.2 L344.5,613.0 L345.4,613.8 L346.2,614.6 L347.0,615.4 L347.7,616.2 L348.3,617.0 L348.9,617.8 L349.4,618.6 L349.9,619.4 L350.3,620.2 L350.8,621.0 L351.2,621.8 L351.5,622.6 L351.8,623.4 L352.0,624.2 L352.2,625.0 L352.4,625.8 L352.5,626.6 L352.6,627.4 L352.6,628.2 L352.6,629.0 L352.4,629.8 L352.2,630.6 L351.9,631.4 L351.5,632.2 L351.1,632.9 L350.6,633.7 L350.1,634.5 L349.6,635.3 L349.0,636.1 L348.2,636.9 L347.2,637.7 L346.2,638.5 L345.1,639.3 L343.9,640.1 L342.8,640.9 L341.7,641.7 L340.5,642.5 L339.3,643.3 L338.1,644.1 L336.9,644.9 L335.6,645.7 L334.4,646.5 L333.2,647.3 L332.0,648.1 L330.7,648.9 L329.5,649.7 L328.2,650.5 L326.9,651.3 L325.6,652.1 L324.4,652.9 L323.2,653.7 L322.1,654.5 L321.0,655.3 L320.0,656.1 L319.1,656.9 L318.1,657.7 L317.2,658.5 L316.4,659.2 L315.6,660.0 L314.8,660.8 L314.2,661.6 L313.6,662.4 L313.1,663.2 L312.6,664.0 L312.1,664.8 L311.6,665.6 L311.2,666.4 L310.8,667.2 L310.4,668.0 L310.1,668.8 L309.8,669.6 L309.6,670.4 L309.4,671.2 L309.2,672.0 L309.0,672.8 L308.8,673.6 L308.7,674.4 L308.6,675.2 L308.6,676.0 L308.6,676.8 L308.6,677.6 L308.6,678.4 L308.6,679.2 L308.6,680.0 L308.6,680.8 L308.6,681.6 L308.6,682.4 L308.6,683.2 L308.6,684.0 L308.6,684.8 L307.0,684.8 L307.0,684.0 L307.0,683.2 L307.0,682.4 L307.0,681.6 L307.0,680.8 L307.0,680.0 L307.0,679.2 L307.0,678.4 L307.0,677.6 L307.0,676.8 L307.0,676.0 L307.0,675.2 L306.9,674.4 L306.8,673.6 L306.6,672.8 L306.4,672.0 L306.2,671.2 L306.0,670.4 L305.8,669.6 L305.5,668.8 L305.2,668.0 L304.8,667.2 L304.4,666.4 L304.0,665.6 L303.5,664.8 L303.0,664.0 L302.5,663.2 L302.0,662.4 L301.4,661.6 L300.8,660.8 L300.0,660.0 L299.2,659.2 L298.4,658.5 L297.5,657.7 L296.5,656.9 L295.6,656.1 L294.6,655.3 L293.5,654.5 L292.4,653.7 L291.2,652.9 L290.0,652.1 L288.7,651.3 L287.4,650.5 L286.1,649.7 L284.9,648.9 L283.6,648.1 L282.4,647.3 L281.2,646.5 L280.0,645.7 L278.7,644.9 L277.5,644.1 L276.3,643.3 L275.1,642.5 L273.9,641.7 L272.8,640.9 L271.7,640.1 L270.5,639.3 L269.4,638.5 L268.4,637.7 L267.4,636.9 L266.6,636.1 L266.0,635.3 L265.5,634.5 L265.0,633.7 L264.5,632.9 L264.1,632.2 L263.7,631.4 L263.4,630.6 L263.2,629.8 L263.0,629.0 L263.0,628.2 L263.0,627.4 L263.1,626.6 L263.2,625.8 L263.4,625.0 L263.6,624.2 L263.8,623.4 L264.1,622.6 L264.4,621.8 L264.8,621.0 L265.3,620.2 L265.7,619.4 L266.2,618.6 L266.7,617.8 L267.3,617.0 L267.9,616.2 L268.6,615.4 L269.4,614.6 L270.2,613.8 L271.1,613.0 L271.9,612.2 L272.7,611.4 L273.6,610.6 L274.4,609.8 L275.2,609.0 L276.0,608.2 L276.8,607.4 L277.7,606.6 L278.5,605.9 L279.3,605.1 L280.0,604.3 L280.8,603.5 L281.4,602.7 L282.1,601.9 L282.8,601.1 L283.5,600.3 L284.1,599.5 L284.7,598.7 L285.2,597.9 L285.7,597.1 L286.1,596.3 L286.5,595.5 L286.8,594.7 L287.1,593.9 L287.3,593.1 L287.4,592.3 L287.5,591.5 L287.5,590.7 L287.6,589.9 L287.6,589.1 L287.6,588.3 L287.6,587.5 L287.5,586.7 L287.5,585.9 L287.4,585.1 L287.3,584.3 L287.3,583.5 L287.2,582.7 L287.1,581.9 L286.9,581.1 L286.7,580.4 L286.5,579.6 L286.3,578.8 L286.1,578.0 L285.8,577.2 L285.6,576.4 L285.5,575.6 L285.3,574.8 L285.2,574.0 L285.1,573.2 L285.0,572.4 L284.9,571.6 L284.8,570.8 L284.7,570.0 L284.7,569.2 L284.6,568.4 L284.6,567.6 L284.6,566.8 L284.6,566.0 L284.6,565.2 L284.6,564.4 L284.7,563.6 L284.8,562.8 L284.8,562.0 L284.9,561.2 L285.0,560.4 L285.1,559.6 L285.3,558.8 L285.5,558.0 L285.7,557.2 L286.0,556.4 L286.2,555.6 L286.5,554.8 L286.8,554.1 L287.2,553.3 L287.6,552.5 L288.0,551.7 L288.5,550.9 L289.0,550.1 L289.6,549.3 L290.2,548.5 L290.7,547.7 L291.3,546.9 L291.9,546.1 L292.5,545.3 L293.2,544.5 L293.9,543.7 L294.6,542.9 L295.2,542.1 L295.9,541.3 L296.5,540.5 L297.0,539.7 L297.5,538.9 L298.0,538.1 L298.4,537.3 L298.9,536.5 L299.3,535.7 L299.7,534.9 L300.0,534.1 L300.4,533.3 L300.7,532.5 L301.0,531.7 L301.3,530.9 L301.5,530.1 L301.8,529.3 L302.1,528.5 L302.3,527.8 L302.6,527.0 L302.8,526.2 L303.1,525.4 L303.3,524.6 L303.6,523.8 L303.9,523.0 L304.1,522.2 L304.4,521.4 L304.7,520.6 L304.9,519.8 L305.2,519.0 L305.4,518.2 L305.6,517.4 L305.8,516.6 L305.9,515.8 L306.0,515.0 L306.1,514.2 L306.2,513.4 L306.3,512.6 L306.3,511.8 L306.4,511.0 L306.5,510.2 L306.5,509.4 L306.6,508.6 L306.6,507.8 L306.7,507.0 L306.7,506.2 L306.8,505.4 L306.8,504.6 L306.9,503.8 L307.0,503.0 L307.0,502.3 L307.0,501.5 L307.0,500.7 L307.0,499.9 L307.0,499.1 L307.0,498.3 L307.0,497.5 L307.0,496.7 L307.0,495.9 L307.0,495.1 L307.0,494.3 L307.0,493.5 L307.0,492.7 L307.0,491.9 L307.0,491.1 L307.0,490.3 L307.0,489.5 Z"/><clipPath id="cvc2"><use href="#vc2"/></clipPath></defs>
<use href="#vc2" fill="#848484" stroke="#000" stroke-width="4.1" stroke-linejoin="round" clip-path="url(#cvc2)"/>
<circle cx="96.9" cy="512" r="2.5"/>
<line x1="96.9" y1="552.4" x2="96.9" y2="651" stroke="#000" stroke-width="2.1"/>
<rect x="91.6" y="595.9" width="10.6" height="38.4" fill="#fff" stroke="#000" stroke-width="1.6"/>
<line x1="90.8" y1="618.7" x2="103" y2="618.7" stroke="#000" stroke-width="3.4"/>
<circle cx="202.3" cy="504.4" r="2.5"/>
<circle cx="202.3" cy="530.5" r="2.5"/>
<line x1="202.3" y1="547" x2="202.3" y2="642" stroke="#000" stroke-width="2.1"/>
<rect x="197" y="583" width="10.6" height="32.1" fill="#fff" stroke="#000" stroke-width="1.6"/>
<line x1="196.2" y1="597.2" x2="208.4" y2="597.2" stroke="#000" stroke-width="3.4"/>
<line x1="307.8" y1="528.25" x2="307.8" y2="646.1" stroke="#000" stroke-width="2.1"/>
<rect x="302.5" y="577.1" width="10.6" height="52.1" fill="#fff" stroke="#000" stroke-width="1.6"/>
<line x1="301.7" y1="617.1" x2="313.9" y2="617.1" stroke="#000" stroke-width="3.4"/>
<path d="M33.9,420.5 V696.85 H371.4" fill="none" stroke="#000" stroke-width="2.45" stroke-linejoin="miter"/>
<line x1="30.8" y1="479.3" x2="33.9" y2="479.3" stroke="#000" stroke-width="1.9"/>
<text x="30.2" y="482.6" font-size="8.3" text-anchor="end">90</text>
<line x1="30.8" y1="548.75" x2="33.9" y2="548.75" stroke="#000" stroke-width="1.9"/>
<text x="30.2" y="552.05" font-size="8.3" text-anchor="end">60</text>
<line x1="30.8" y1="618.15" x2="33.9" y2="618.15" stroke="#000" stroke-width="1.9"/>
<text x="30.2" y="621.45" font-size="8.3" text-anchor="end">30</text>
<line x1="30.8" y1="687.5" x2="33.9" y2="687.5" stroke="#000" stroke-width="1.9"/>
<text x="30.2" y="690.8" font-size="8.3" text-anchor="end">0</text>
<line x1="96.9" y1="696.85" x2="96.9" y2="699.75" stroke="#000" stroke-width="1.7"/>
<text x="96.25" y="708.1" font-size="8.6" text-anchor="middle">Normal</text>
<line x1="202.3" y1="696.85" x2="202.3" y2="699.75" stroke="#000" stroke-width="1.7"/>
<text x="203.5" y="708.1" font-size="8.6" text-anchor="middle">Benign</text>
<line x1="307.8" y1="696.85" x2="307.8" y2="699.75" stroke="#000" stroke-width="1.7"/>
<text x="311.5" y="708.1" font-size="8.6" text-anchor="middle">Cancer</text>
<text transform="translate(17,539.6) rotate(-90)" font-size="9.6" text-anchor="middle">MAL-<tspan dx="-1" font-family='"Noto Serif CJK SC","Liberation Serif",serif' font-size="8.8" fill="#444" stroke="none">Ⅱ</tspan><tspan dx="-1"> (ng/L)</tspan></text>
<path d="M202.25,450.2 V445.25 H307.75 V450.5" fill="none" stroke="#000" stroke-width="1.6"/>
<text x="255.2" y="447" font-size="10.5" text-anchor="middle">*</text>
<path d="M96.9,465.7 V460.8 H307.75 V465.9" fill="none" stroke="#000" stroke-width="1.6"/>
<text x="202.6" y="457.8" font-size="9.8" text-anchor="middle">ns</text>
<path d="M96.9,476.4 V472.1 H202.25 V474" fill="none" stroke="#000" stroke-width="1.6"/>
<text x="149.6" y="473.6" font-size="10.5" text-anchor="middle">***</text>
</g>
<g id="panel-d">
<text x="406.7" y="403.2" font-size="26" font-weight="bold">d</text>
<defs><path id="vd0" d="M499.6,489.0 L499.6,489.8 L499.6,490.6 L499.6,491.4 L499.6,492.2 L499.6,493.0 L499.6,493.8 L499.6,494.6 L499.6,495.4 L499.6,496.2 L499.6,497.0 L499.6,497.8 L499.6,498.6 L499.6,499.4 L499.6,500.2 L499.6,501.0 L499.6,501.8 L499.7,502.5 L499.8,503.3 L499.8,504.1 L499.9,504.9 L500.0,505.7 L500.1,506.5 L500.2,507.3 L500.4,508.1 L500.5,508.9 L500.6,509.7 L500.7,510.5 L500.9,511.3 L501.0,512.1 L501.1,512.9 L501.3,513.7 L501.4,514.5 L501.6,515.3 L501.7,516.1 L501.9,516.9 L502.0,517.7 L502.2,518.5 L502.3,519.3 L502.5,520.1 L502.6,520.9 L502.7,521.7 L502.9,522.5 L503.0,523.3 L503.1,524.1 L503.2,524.9 L503.3,525.7 L503.4,526.5 L503.5,527.3 L503.6,528.0 L503.7,528.8 L503.8,529.6 L503.8,530.4 L503.9,531.2 L504.0,532.0 L504.0,532.8 L504.0,533.6 L504.0,534.4 L504.0,535.2 L504.0,536.0 L504.0,536.8 L504.0,537.6 L504.0,538.4 L504.0,539.2 L503.9,540.0 L503.9,540.8 L503.9,541.6 L503.9,542.4 L503.8,543.2 L503.8,544.0 L503.8,544.8 L503.7,545.6 L503.7,546.4 L503.7,547.2 L503.6,548.0 L503.6,548.8 L503.5,549.6 L503.5,550.4 L503.5,551.2 L503.4,552.0 L503.4,552.8 L503.3,553.6 L503.3,554.3 L503.2,555.1 L503.2,555.9 L503.1,556.7 L503.1,557.5 L503.0,558.3 L503.0,559.1 L502.9,559.9 L502.9,560.7 L502.8,561.5 L502.8,562.3 L502.7,563.1 L502.7,563.9 L502.7,564.7 L502.6,565.5 L502.6,566.3 L502.6,567.1 L502.6,567.9 L502.6,568.7 L502.6,569.5 L502.6,570.3 L502.6,571.1 L502.6,571.9 L502.7,572.7 L502.7,573.5 L502.8,574.3 L502.9,575.1 L503.0,575.9 L503.1,576.7 L503.3,577.5 L503.4,578.3 L503.6,579.1 L503.9,579.9 L504.1,580.6 L504.5,581.4 L504.8,582.2 L505.2,583.0 L505.5,583.8 L505.9,584.6 L506.3,585.4 L506.7,586.2 L507.1,587.0 L507.6,587.8 L508.0,588.6 L508.5,589.4 L508.9,590.2 L509.4,591.0 L509.8,591.8 L510.2,592.6 L510.7,593.4 L511.1,594.2 L511.5,595.0 L512.0,595.8 L512.4,596.6 L512.9,597.4 L513.3,598.2 L513.8,599.0 L514.2,599.8 L514.6,600.6 L515.0,601.4 L515.4,602.2 L515.8,603.0 L516.2,603.8 L516.6,604.6 L516.9,605.4 L517.3,606.1 L517.6,606.9 L517.9,607.7 L518.3,608.5 L518.6,609.3 L518.9,610.1 L519.2,610.9 L519.5,611.7 L519.8,612.5 L520.1,613.3 L520.4,614.1 L520.6,614.9 L520.9,615.7 L521.2,616.5 L521.5,617.3 L521.8,618.1 L522.0,618.9 L522.3,619.7 L522.5,620.5 L522.8,621.3 L523.0,622.1 L523.2,622.9 L523.4,623.7 L523.6,624.5 L523.8,625.3 L524.0,626.1 L524.2,626.9 L524.4,627.7 L524.5,628.5 L524.7,629.3 L524.8,630.1 L525.0,630.9 L525.1,631.7 L525.2,632.4 L525.3,633.2 L525.3,634.0 L525.3,634.8 L525.2,635.6 L525.0,636.4 L524.9,637.2 L524.6,638.0 L524.4,638.8 L524.1,639.6 L523.7,640.4 L523.1,641.2 L522.5,642.0 L521.8,642.8 L521.0,643.6 L520.2,644.4 L519.4,645.2 L518.6,646.0 L517.9,646.8 L517.1,647.6 L516.2,648.4 L515.3,649.2 L514.4,650.0 L513.5,650.8 L512.6,651.6 L511.7,652.4 L510.9,653.2 L510.1,654.0 L509.3,654.8 L508.6,655.6 L507.9,656.4 L507.2,657.2 L506.5,658.0 L505.9,658.7 L505.3,659.5 L504.8,660.3 L504.3,661.1 L503.8,661.9 L503.4,662.7 L502.9,663.5 L502.5,664.3 L502.2,665.1 L501.8,665.9 L501.5,666.7 L501.3,667.5 L501.1,668.3 L500.9,669.1 L500.7,669.9 L500.5,670.7 L500.4,671.5 L500.2,672.3 L500.1,673.1 L500.0,673.9 L499.8,674.7 L499.7,675.5 L499.6,676.3 L499.6,677.1 L499.6,677.9 L499.6,678.7 L499.6,679.5 L499.6,680.3 L499.6,681.1 L499.6,681.9 L499.6,682.7 L499.6,683.5 L499.6,684.2 L497.9,684.2 L497.9,683.5 L497.9,682.7 L497.9,681.9 L497.9,681.1 L497.9,680.3 L497.9,679.5 L497.9,678.7 L497.9,677.9 L497.9,677.1 L497.9,676.3 L497.8,675.5 L497.7,674.7 L497.5,673.9 L497.4,673.1 L497.3,672.3 L497.1,671.5 L497.0,670.7 L496.8,669.9 L496.6,669.1 L496.4,668.3 L496.2,667.5 L496.0,666.7 L495.7,665.9 L495.3,665.1 L495.0,664.3 L494.6,663.5 L494.1,662.7 L493.7,661.9 L493.2,661.1 L492.7,660.3 L492.2,659.5 L491.6,658.7 L491.0,658.0 L490.3,657.2 L489.6,656.4 L488.9,655.6 L488.2,654.8 L487.4,654.0 L486.6,653.2 L485.8,652.4 L484.9,651.6 L484.0,650.8 L483.1,650.0 L482.2,649.2 L481.3,648.4 L480.4,647.6 L479.6,646.8 L478.9,646.0 L478.1,645.2 L477.3,644.4 L476.5,643.6 L475.7,642.8 L475.0,642.0 L474.4,641.2 L473.8,640.4 L473.4,639.6 L473.1,638.8 L472.9,638.0 L472.6,637.2 L472.5,636.4 L472.3,635.6 L472.2,634.8 L472.2,634.0 L472.2,633.2 L472.3,632.4 L472.4,631.7 L472.5,630.9 L472.7,630.1 L472.8,629.3 L473.0,628.5 L473.1,627.7 L473.3,626.9 L473.5,626.1 L473.7,625.3 L473.9,624.5 L474.1,623.7 L474.3,622.9 L474.5,622.1 L474.7,621.3 L475.0,620.5 L475.2,619.7 L475.5,618.9 L475.7,618.1 L476.0,617.3 L476.3,616.5 L476.6,615.7 L476.9,614.9 L477.1,614.1 L477.4,613.3 L477.7,612.5 L478.0,611.7 L478.3,610.9 L478.6,610.1 L478.9,609.3 L479.2,608.5 L479.6,607.7 L479.9,606.9 L480.2,606.1 L480.6,605.4 L480.9,604.6 L481.3,603.8 L481.7,603.0 L482.1,602.2 L482.5,601.4 L482.9,600.6 L483.3,599.8 L483.7,599.0 L484.2,598.2 L484.6,597.4 L485.1,596.6 L485.5,595.8 L486.0,595.0 L486.4,594.2 L486.8,593.4 L487.3,592.6 L487.7,591.8 L488.1,591.0 L488.6,590.2 L489.0,589.4 L489.5,588.6 L489.9,587.8 L490.4,587.0 L490.8,586.2 L491.2,585.4 L491.6,584.6 L492.0,583.8 L492.3,583.0 L492.7,582.2 L493.0,581.4 L493.4,580.6 L493.6,579.9 L493.9,579.1 L494.1,578.3 L494.2,577.5 L494.4,576.7 L494.5,575.9 L494.6,575.1 L494.7,574.3 L494.8,573.5 L494.8,572.7 L494.9,571.9 L494.9,571.1 L494.9,570.3 L494.9,569.5 L494.9,568.7 L494.9,567.9 L494.9,567.1 L494.9,566.3 L494.9,565.5 L494.8,564.7 L494.8,563.9 L494.8,563.1 L494.7,562.3 L494.7,561.5 L494.6,560.7 L494.6,559.9 L494.5,559.1 L494.5,558.3 L494.4,557.5 L494.4,556.7 L494.3,555.9 L494.3,555.1 L494.2,554.3 L494.2,553.6 L494.1,552.8 L494.1,552.0 L494.0,551.2 L494.0,550.4 L494.0,549.6 L493.9,548.8 L493.9,548.0 L493.8,547.2 L493.8,546.4 L493.8,545.6 L493.7,544.8 L493.7,544.0 L493.7,543.2 L493.6,542.4 L493.6,541.6 L493.6,540.8 L493.6,540.0 L493.5,539.2 L493.5,538.4 L493.5,537.6 L493.5,536.8 L493.5,536.0 L493.5,535.2 L493.5,534.4 L493.5,533.6 L493.5,532.8 L493.5,532.0 L493.6,531.2 L493.7,530.4 L493.7,529.6 L493.8,528.8 L493.9,528.0 L494.0,527.3 L494.1,526.5 L494.2,525.7 L494.3,524.9 L494.4,524.1 L494.5,523.3 L494.6,522.5 L494.8,521.7 L494.9,520.9 L495.0,520.1 L495.2,519.3 L495.3,518.5 L495.5,517.7 L495.6,516.9 L495.8,516.1 L495.9,515.3 L496.1,514.5 L496.2,513.7 L496.4,512.9 L496.5,512.1 L496.6,511.3 L496.8,510.5 L496.9,509.7 L497.0,508.9 L497.1,508.1 L497.3,507.3 L497.4,506.5 L497.5,505.7 L497.6,504.9 L497.7,504.1 L497.7,503.3 L497.8,502.5 L497.9,501.8 L497.9,501.0 L497.9,500.2 L497.9,499.4 L497.9,498.6 L497.9,497.8 L497.9,497.0 L497.9,496.2 L497.9,495.4 L497.9,494.6 L497.9,493.8 L497.9,493.0 L497.9,492.2 L497.9,491.4 L497.9,490.6 L497.9,489.8 L497.9,489.0 Z"/><clipPath id="cvd0"><use href="#vd0"/></clipPath></defs>
<use href="#vd0" fill="#848484" stroke="#000" stroke-width="4.1" stroke-linejoin="round" clip-path="url(#cvd0)"/>
<defs><path id="vd1" d="M607.8,469.2 L607.8,470.0 L607.8,470.8 L607.8,471.6 L607.8,472.4 L607.8,473.2 L607.9,474.0 L608.0,474.8 L608.2,475.6 L608.3,476.4 L608.4,477.2 L608.5,478.0 L608.6,478.8 L608.7,479.6 L608.8,480.4 L609.0,481.2 L609.1,482.0 L609.2,482.8 L609.3,483.6 L609.3,484.4 L609.4,485.2 L609.5,486.0 L609.6,486.8 L609.6,487.6 L609.7,488.4 L609.7,489.2 L609.7,490.0 L609.7,490.8 L609.7,491.5 L609.7,492.3 L609.6,493.1 L609.5,493.9 L609.4,494.7 L609.3,495.5 L609.2,496.3 L609.1,497.1 L609.0,497.9 L608.9,498.7 L608.8,499.5 L608.7,500.3 L608.5,501.1 L608.4,501.9 L608.3,502.7 L608.2,503.5 L608.2,504.3 L608.1,505.1 L608.1,505.9 L608.1,506.7 L608.1,507.5 L608.1,508.3 L608.1,509.1 L608.1,509.9 L608.1,510.7 L608.1,511.5 L608.1,512.3 L608.1,513.1 L608.1,513.9 L608.1,514.7 L608.0,515.5 L608.1,516.3 L608.1,517.1 L608.1,517.9 L608.1,518.7 L608.1,519.5 L608.1,520.3 L608.1,521.1 L608.1,521.9 L608.1,522.7 L608.1,523.5 L608.2,524.3 L608.3,525.1 L608.4,525.9 L608.6,526.7 L608.7,527.5 L608.8,528.3 L609.0,529.1 L609.1,529.9 L609.2,530.7 L609.3,531.5 L609.4,532.3 L609.5,533.1 L609.6,533.9 L609.7,534.7 L609.7,535.5 L609.7,536.2 L609.6,537.0 L609.5,537.8 L609.4,538.6 L609.3,539.4 L609.2,540.2 L609.1,541.0 L609.0,541.8 L608.8,542.6 L608.7,543.4 L608.6,544.2 L608.5,545.0 L608.4,545.8 L608.3,546.6 L608.3,547.4 L608.2,548.2 L608.3,549.0 L608.3,549.8 L608.4,550.6 L608.4,551.4 L608.5,552.2 L608.5,553.0 L608.6,553.8 L608.6,554.6 L608.7,555.4 L608.8,556.2 L608.9,557.0 L608.9,557.8 L609.0,558.6 L609.1,559.4 L609.2,560.2 L609.4,561.0 L609.5,561.8 L609.6,562.6 L609.8,563.4 L609.9,564.2 L610.1,565.0 L610.3,565.8 L610.4,566.6 L610.6,567.4 L610.9,568.2 L611.1,569.0 L611.3,569.8 L611.6,570.6 L611.9,571.4 L612.2,572.2 L612.5,573.0 L612.8,573.8 L613.1,574.6 L613.4,575.4 L613.7,576.2 L614.0,577.0 L614.2,577.8 L614.5,578.6 L614.7,579.4 L614.9,580.1 L615.1,580.9 L615.2,581.7 L615.5,582.5 L615.7,583.3 L615.9,584.1 L616.2,584.9 L616.5,585.7 L616.8,586.5 L617.1,587.3 L617.5,588.1 L617.8,588.9 L618.2,589.7 L618.6,590.5 L619.0,591.3 L619.5,592.1 L620.1,592.9 L620.7,593.7 L621.4,594.5 L622.2,595.3 L623.1,596.1 L624.1,596.9 L625.1,597.7 L626.2,598.5 L627.3,599.3 L628.3,600.1 L629.3,600.9 L630.4,601.7 L631.4,602.5 L632.5,603.3 L633.4,604.1 L634.4,604.9 L635.2,605.7 L636.1,606.5 L636.8,607.3 L637.5,608.1 L638.1,608.9 L638.5,609.7 L638.9,610.5 L639.2,611.3 L639.3,612.1 L639.3,612.9 L639.2,613.7 L639.1,614.5 L638.9,615.3 L638.7,616.1 L638.4,616.9 L638.1,617.7 L637.8,618.5 L637.4,619.3 L637.0,620.1 L636.7,620.9 L636.3,621.7 L635.9,622.5 L635.5,623.3 L635.1,624.1 L634.8,624.8 L634.4,625.6 L634.0,626.4 L633.6,627.2 L633.3,628.0 L632.9,628.8 L632.6,629.6 L632.1,630.4 L631.6,631.2 L631.0,632.0 L630.4,632.8 L629.8,633.6 L629.1,634.4 L628.4,635.2 L627.7,636.0 L627.0,636.8 L626.3,637.6 L625.5,638.4 L624.8,639.2 L624.0,640.0 L623.2,640.8 L622.5,641.6 L621.7,642.4 L621.0,643.2 L620.2,644.0 L619.4,644.8 L618.7,645.6 L617.9,646.4 L617.2,647.2 L616.5,648.0 L615.7,648.8 L615.0,649.6 L614.3,650.4 L613.6,651.2 L613.0,652.0 L612.4,652.8 L611.8,653.6 L611.2,654.4 L610.7,655.2 L610.1,656.0 L609.7,656.8 L609.3,657.6 L609.1,658.4 L608.9,659.2 L608.6,660.0 L608.5,660.8 L608.3,661.6 L608.1,662.4 L608.0,663.2 L607.8,664.0 L607.8,664.8 L607.8,665.6 L607.8,666.4 L607.8,667.2 L607.8,668.0 L607.8,668.8 L606.2,668.8 L606.2,668.0 L606.2,667.2 L606.2,666.4 L606.2,665.6 L606.2,664.8 L606.2,664.0 L606.0,663.2 L605.9,662.4 L605.7,661.6 L605.5,660.8 L605.4,660.0 L605.1,659.2 L604.9,658.4 L604.7,657.6 L604.3,656.8 L603.9,656.0 L603.3,655.2 L602.8,654.4 L602.2,653.6 L601.6,652.8 L601.0,652.0 L600.4,651.2 L599.7,650.4 L599.0,649.6 L598.3,648.8 L597.5,648.0 L596.8,647.2 L596.1,646.4 L595.3,645.6 L594.6,644.8 L593.8,644.0 L593.0,643.2 L592.3,642.4 L591.5,641.6 L590.8,640.8 L590.0,640.0 L589.2,639.2 L588.5,638.4 L587.7,637.6 L587.0,636.8 L586.3,636.0 L585.6,635.2 L584.9,634.4 L584.2,633.6 L583.6,632.8 L583.0,632.0 L582.4,631.2 L581.9,630.4 L581.4,629.6 L581.1,628.8 L580.7,628.0 L580.4,627.2 L580.0,626.4 L579.6,625.6 L579.2,624.8 L578.9,624.1 L578.5,623.3 L578.1,622.5 L577.7,621.7 L577.3,620.9 L577.0,620.1 L576.6,619.3 L576.2,618.5 L575.9,617.7 L575.6,616.9 L575.3,616.1 L575.1,615.3 L574.9,614.5 L574.8,613.7 L574.7,612.9 L574.7,612.1 L574.8,611.3 L575.1,610.5 L575.5,609.7 L575.9,608.9 L576.5,608.1 L577.2,607.3 L577.9,606.5 L578.8,605.7 L579.6,604.9 L580.6,604.1 L581.5,603.3 L582.6,602.5 L583.6,601.7 L584.7,600.9 L585.7,600.1 L586.7,599.3 L587.8,598.5 L588.9,597.7 L589.9,596.9 L590.9,596.1 L591.8,595.3 L592.6,594.5 L593.3,593.7 L593.9,592.9 L594.5,592.1 L595.0,591.3 L595.4,590.5 L595.8,589.7 L596.2,588.9 L596.5,588.1 L596.9,587.3 L597.2,586.5 L597.5,585.7 L597.8,584.9 L598.1,584.1 L598.3,583.3 L598.5,582.5 L598.8,581.7 L598.9,580.9 L599.1,580.1 L599.3,579.4 L599.5,578.6 L599.8,577.8 L600.0,577.0 L600.3,576.2 L600.6,575.4 L600.9,574.6 L601.2,573.8 L601.5,573.0 L601.8,572.2 L602.1,571.4 L602.4,570.6 L602.7,569.8 L602.9,569.0 L603.1,568.2 L603.4,567.4 L603.6,566.6 L603.7,565.8 L603.9,565.0 L604.1,564.2 L604.2,563.4 L604.4,562.6 L604.5,561.8 L604.6,561.0 L604.8,560.2 L604.9,559.4 L605.0,558.6 L605.1,557.8 L605.1,557.0 L605.2,556.2 L605.3,555.4 L605.4,554.6 L605.4,553.8 L605.5,553.0 L605.5,552.2 L605.6,551.4 L605.6,550.6 L605.7,549.8 L605.7,549.0 L605.8,548.2 L605.7,547.4 L605.7,546.6 L605.6,545.8 L605.5,545.0 L605.4,544.2 L605.3,543.4 L605.2,542.6 L605.0,541.8 L604.9,541.0 L604.8,540.2 L604.7,539.4 L604.6,538.6 L604.5,537.8 L604.4,537.0 L604.3,536.2 L604.3,535.5 L604.3,534.7 L604.4,533.9 L604.5,533.1 L604.6,532.3 L604.7,531.5 L604.8,530.7 L604.9,529.9 L605.0,529.1 L605.2,528.3 L605.3,527.5 L605.4,526.7 L605.6,525.9 L605.7,525.1 L605.8,524.3 L605.9,523.5 L605.9,522.7 L605.9,521.9 L605.9,521.1 L605.9,520.3 L605.9,519.5 L605.9,518.7 L605.9,517.9 L605.9,517.1 L605.9,516.3 L606.0,515.5 L605.9,514.7 L605.9,513.9 L605.9,513.1 L605.9,512.3 L605.9,511.5 L605.9,510.7 L605.9,509.9 L605.9,509.1 L605.9,508.3 L605.9,507.5 L605.9,506.7 L605.9,505.9 L605.9,505.1 L605.8,504.3 L605.8,503.5 L605.7,502.7 L605.6,501.9 L605.5,501.1 L605.3,500.3 L605.2,499.5 L605.1,498.7 L605.0,497.9 L604.9,497.1 L604.8,496.3 L604.7,495.5 L604.6,494.7 L604.5,493.9 L604.4,493.1 L604.3,492.3 L604.3,491.5 L604.3,490.8 L604.3,490.0 L604.3,489.2 L604.3,488.4 L604.4,487.6 L604.4,486.8 L604.5,486.0 L604.6,485.2 L604.7,484.4 L604.7,483.6 L604.8,482.8 L604.9,482.0 L605.0,481.2 L605.2,480.4 L605.3,479.6 L605.4,478.8 L605.5,478.0 L605.6,477.2 L605.7,476.4 L605.8,475.6 L606.0,474.8 L606.1,474.0 L606.2,473.2 L606.2,472.4 L606.2,471.6 L606.2,470.8 L606.2,470.0 L606.2,469.2 Z"/><clipPath id="cvd1"><use href="#vd1"/></clipPath></defs>
<use href="#vd1" fill="#848484" stroke="#000" stroke-width="4.1" stroke-linejoin="round" clip-path="url(#cvd1)"/>
<defs><path id="vd2" d="M715.9,519.5 L715.9,520.3 L715.9,521.1 L715.9,521.9 L715.9,522.7 L715.9,523.5 L715.9,524.3 L716.1,525.1 L716.2,525.9 L716.4,526.7 L716.6,527.5 L716.9,528.3 L717.2,529.1 L717.7,529.9 L718.1,530.7 L718.5,531.5 L718.8,532.2 L719.1,533.0 L719.4,533.8 L719.6,534.6 L719.8,535.4 L719.9,536.2 L719.8,537.0 L719.7,537.8 L719.5,538.6 L719.2,539.4 L719.0,540.2 L718.7,541.0 L718.4,541.8 L718.1,542.6 L717.8,543.4 L717.5,544.2 L717.3,545.0 L717.1,545.8 L717.0,546.6 L716.9,547.4 L716.9,548.2 L716.9,549.0 L717.0,549.8 L717.2,550.6 L717.4,551.4 L717.6,552.2 L717.8,553.0 L718.1,553.8 L718.4,554.6 L718.6,555.4 L718.8,556.2 L719.0,557.0 L719.1,557.7 L719.3,558.5 L719.3,559.3 L719.3,560.1 L719.3,560.9 L719.2,561.7 L719.1,562.5 L719.0,563.3 L718.9,564.1 L718.7,564.9 L718.5,565.7 L718.2,566.5 L718.0,567.3 L717.7,568.1 L717.5,568.9 L717.4,569.7 L717.2,570.5 L717.1,571.3 L716.9,572.1 L716.9,572.9 L716.9,573.7 L717.0,574.5 L717.0,575.3 L717.1,576.1 L717.2,576.9 L717.3,577.7 L717.4,578.5 L717.5,579.3 L717.6,580.1 L717.7,580.9 L717.9,581.7 L718.0,582.4 L718.2,583.2 L718.3,584.0 L718.6,584.8 L718.9,585.6 L719.2,586.4 L719.5,587.2 L719.9,588.0 L720.4,588.8 L720.8,589.6 L721.5,590.4 L722.2,591.2 L722.9,592.0 L723.6,592.8 L724.1,593.6 L724.5,594.4 L725.0,595.2 L725.3,596.0 L725.6,596.8 L725.8,597.6 L725.9,598.4 L726.0,599.2 L726.0,600.0 L725.9,600.8 L725.8,601.6 L725.6,602.4 L725.3,603.2 L725.0,604.0 L724.8,604.8 L724.7,605.6 L724.5,606.4 L724.4,607.2 L724.3,607.9 L724.3,608.7 L724.4,609.5 L725.1,610.3 L726.1,611.1 L727.4,611.9 L729.0,612.7 L731.2,613.5 L733.7,614.3 L736.3,615.1 L738.7,615.9 L741.1,616.7 L743.6,617.5 L745.9,618.3 L748.2,619.1 L750.4,619.9 L752.4,620.7 L754.4,621.5 L756.4,622.3 L758.1,623.1 L759.6,623.9 L761.0,624.7 L762.2,625.5 L763.2,626.3 L763.9,627.1 L764.4,627.9 L764.7,628.7 L764.6,629.5 L764.2,630.3 L763.5,631.1 L762.7,631.9 L761.7,632.6 L760.5,633.4 L759.0,634.2 L757.4,635.0 L755.8,635.8 L754.0,636.6 L752.1,637.4 L750.1,638.2 L748.1,639.0 L746.1,639.8 L744.0,640.6 L741.8,641.4 L739.7,642.2 L737.6,643.0 L735.6,643.8 L733.7,644.6 L731.9,645.4 L730.1,646.2 L728.5,647.0 L727.2,647.8 L726.0,648.6 L725.0,649.4 L724.0,650.2 L723.2,651.0 L722.4,651.8 L721.7,652.6 L720.9,653.4 L720.2,654.2 L719.6,655.0 L718.9,655.8 L718.4,656.6 L717.9,657.4 L717.6,658.1 L717.2,658.9 L716.9,659.7 L716.7,660.5 L716.4,661.3 L716.3,662.1 L716.1,662.9 L716.0,663.7 L715.9,664.5 L715.9,665.3 L715.9,666.1 L715.9,666.9 L715.9,667.7 L715.9,668.5 L715.9,669.3 L715.9,670.1 L714.3,670.1 L714.3,669.3 L714.3,668.5 L714.3,667.7 L714.3,666.9 L714.3,666.1 L714.3,665.3 L714.3,664.5 L714.2,663.7 L714.1,662.9 L713.9,662.1 L713.8,661.3 L713.5,660.5 L713.3,659.7 L713.0,658.9 L712.6,658.1 L712.3,657.4 L711.8,656.6 L711.3,655.8 L710.6,655.0 L710.0,654.2 L709.3,653.4 L708.5,652.6 L707.8,651.8 L707.0,651.0 L706.2,650.2 L705.2,649.4 L704.2,648.6 L703.0,647.8 L701.7,647.0 L700.1,646.2 L698.3,645.4 L696.5,644.6 L694.6,643.8 L692.6,643.0 L690.5,642.2 L688.4,641.4 L686.2,640.6 L684.1,639.8 L682.1,639.0 L680.1,638.2 L678.1,637.4 L676.2,636.6 L674.4,635.8 L672.8,635.0 L671.2,634.2 L669.7,633.4 L668.5,632.6 L667.5,631.9 L666.7,631.1 L666.0,630.3 L665.6,629.5 L665.5,628.7 L665.8,627.9 L666.3,627.1 L667.0,626.3 L668.0,625.5 L669.2,624.7 L670.6,623.9 L672.1,623.1 L673.8,622.3 L675.8,621.5 L677.8,620.7 L679.8,619.9 L682.0,619.1 L684.3,618.3 L686.6,617.5 L689.1,616.7 L691.5,615.9 L693.9,615.1 L696.5,614.3 L699.0,613.5 L701.2,612.7 L702.8,611.9 L704.1,611.1 L705.1,610.3 L705.8,609.5 L705.9,608.7 L705.9,607.9 L705.8,607.2 L705.7,606.4 L705.5,605.6 L705.4,604.8 L705.2,604.0 L704.9,603.2 L704.6,602.4 L704.4,601.6 L704.3,600.8 L704.2,600.0 L704.2,599.2 L704.3,598.4 L704.4,597.6 L704.6,596.8 L704.9,596.0 L705.2,595.2 L705.7,594.4 L706.1,593.6 L706.6,592.8 L707.3,592.0 L708.0,591.2 L708.7,590.4 L709.4,589.6 L709.8,588.8 L710.3,588.0 L710.7,587.2 L711.0,586.4 L711.3,585.6 L711.6,584.8 L711.9,584.0 L712.0,583.2 L712.2,582.4 L712.3,581.7 L712.5,580.9 L712.6,580.1 L712.7,579.3 L712.8,578.5 L712.9,577.7 L713.0,576.9 L713.1,576.1 L713.2,575.3 L713.2,574.5 L713.3,573.7 L713.3,572.9 L713.3,572.1 L713.1,571.3 L713.0,570.5 L712.8,569.7 L712.7,568.9 L712.5,568.1 L712.2,567.3 L712.0,566.5 L711.7,565.7 L711.5,564.9 L711.3,564.1 L711.2,563.3 L711.1,562.5 L711.0,561.7 L710.9,560.9 L710.9,560.1 L710.9,559.3 L710.9,558.5 L711.1,557.7 L711.2,557.0 L711.4,556.2 L711.6,555.4 L711.8,554.6 L712.1,553.8 L712.4,553.0 L712.6,552.2 L712.8,551.4 L713.0,550.6 L713.2,549.8 L713.3,549.0 L713.3,548.2 L713.3,547.4 L713.2,546.6 L713.1,545.8 L712.9,545.0 L712.7,544.2 L712.4,543.4 L712.1,542.6 L711.8,541.8 L711.5,541.0 L711.2,540.2 L711.0,539.4 L710.7,538.6 L710.5,537.8 L710.4,537.0 L710.3,536.2 L710.4,535.4 L710.6,534.6 L710.8,533.8 L711.1,533.0 L711.4,532.2 L711.7,531.5 L712.1,530.7 L712.5,529.9 L713.0,529.1 L713.3,528.3 L713.6,527.5 L713.8,526.7 L714.0,525.9 L714.1,525.1 L714.3,524.3 L714.3,523.5 L714.3,522.7 L714.3,521.9 L714.3,521.1 L714.3,520.3 L714.3,519.5 Z"/><clipPath id="cvd2"><use href="#vd2"/></clipPath></defs>
<use href="#vd2" fill="#848484" stroke="#000" stroke-width="4.1" stroke-linejoin="round" clip-path="url(#cvd2)"/>
<circle cx="498.75" cy="528.1" r="2.5"/>
<circle cx="498.75" cy="536" r="2.5"/>
<circle cx="498.75" cy="542.3" r="2.5"/>
<line x1="498.75" y1="547.5" x2="498.75" y2="651.2" stroke="#000" stroke-width="2.1"/>
<rect x="493.45" y="601" width="10.6" height="36.7" fill="#fff" stroke="#000" stroke-width="1.6"/>
<line x1="492.65" y1="621.1" x2="504.85" y2="621.1" stroke="#000" stroke-width="3.4"/>
<circle cx="607" cy="490.5" r="2.5"/>
<circle cx="607" cy="535" r="2.5"/>
<line x1="607" y1="573.5" x2="607" y2="648.4" stroke="#000" stroke-width="2.1"/>
<rect x="601.7" y="606.7" width="10.6" height="23.4" fill="#fff" stroke="#000" stroke-width="1.6"/>
<line x1="600.9" y1="615" x2="613.1" y2="615" stroke="#000" stroke-width="3.4"/>
<circle cx="715.1" cy="536.25" r="2.5"/>
<circle cx="715.1" cy="560.5" r="2.5"/>
<circle cx="715.1" cy="584" r="2.5"/>
<line x1="715.1" y1="591.9" x2="715.1" y2="653.6" stroke="#000" stroke-width="2.1"/>
<rect x="709.8" y="616.9" width="10.6" height="17.5" fill="#fff" stroke="#000" stroke-width="1.6"/>
<line x1="709" y1="627.2" x2="721.2" y2="627.2" stroke="#000" stroke-width="3.4"/>
<path d="M433.6,409.5 V696.75 H780.5" fill="none" stroke="#000" stroke-width="2.45" stroke-linejoin="miter"/>
<line x1="430.5" y1="411.25" x2="433.6" y2="411.25" stroke="#000" stroke-width="1.9"/>
<text x="429.25" y="414.35" font-size="8.3" text-anchor="end">125</text>
<line x1="430.5" y1="466.15" x2="433.6" y2="466.15" stroke="#000" stroke-width="1.9"/>
<text x="429.25" y="469.25" font-size="8.3" text-anchor="end">100</text>
<line x1="430.5" y1="521" x2="433.6" y2="521" stroke="#000" stroke-width="1.9"/>
<text x="429.25" y="524.1" font-size="8.3" text-anchor="end">75</text>
<line x1="430.5" y1="575.9" x2="433.6" y2="575.9" stroke="#000" stroke-width="1.9"/>
<text x="429.25" y="579" font-size="8.3" text-anchor="end">50</text>
<line x1="430.5" y1="630.75" x2="433.6" y2="630.75" stroke="#000" stroke-width="1.9"/>
<text x="429.25" y="633.85" font-size="8.3" text-anchor="end">25</text>
<line x1="430.5" y1="685.6" x2="433.6" y2="685.6" stroke="#000" stroke-width="1.9"/>
<text x="429.25" y="688.7" font-size="8.3" text-anchor="end">0</text>
<line x1="498.75" y1="696.75" x2="498.75" y2="699.65" stroke="#000" stroke-width="1.7"/>
<text x="500.2" y="708.1" font-size="8.6" text-anchor="middle">Normal</text>
<line x1="607" y1="696.75" x2="607" y2="699.65" stroke="#000" stroke-width="1.7"/>
<text x="607.7" y="708.1" font-size="8.6" text-anchor="middle">Benign</text>
<line x1="715.1" y1="696.75" x2="715.1" y2="699.65" stroke="#000" stroke-width="1.7"/>
<text x="716.1" y="708.1" font-size="8.6" text-anchor="middle">Cancer</text>
<text transform="translate(411.75,538.9) rotate(-90)" font-size="9.9" text-anchor="middle">SNA (ng/L)</text>
<path d="M607,448.6 V443.85 H715 V448.75" fill="none" stroke="#000" stroke-width="1.6"/>
<text x="661.4" y="444.9" font-size="10.5" text-anchor="middle">*</text>
<path d="M498.75,463.5 V458 H715 V463.5" fill="none" stroke="#000" stroke-width="1.6"/>
<text x="607.2" y="455.5" font-size="9.8" text-anchor="middle">ns</text>
<path d="M498.75,474.6 V469.2 H607 V471" fill="none" stroke="#000" stroke-width="1.6"/>
<text x="552.8" y="466.4" font-size="9.8" text-anchor="middle">ns</text>
</g>
</svg>
</body>
</html>
